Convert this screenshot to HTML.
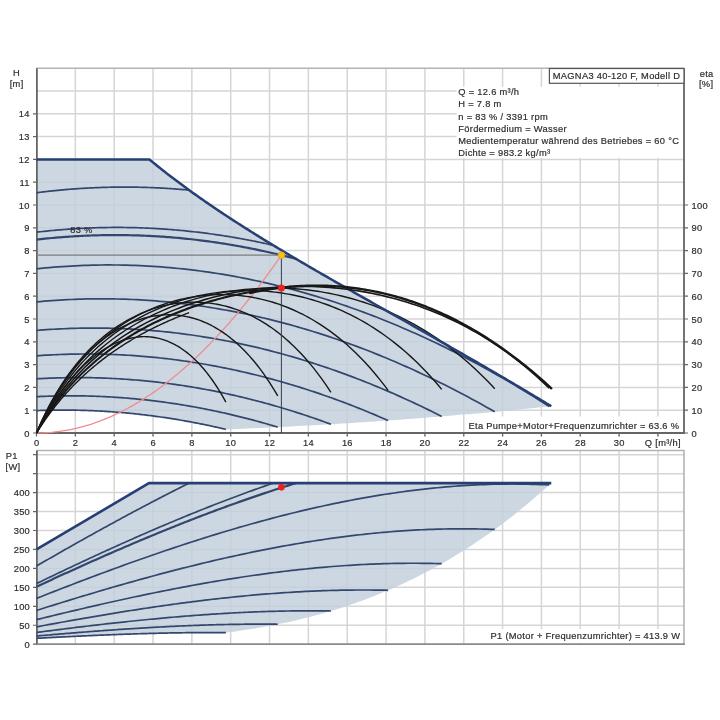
<!DOCTYPE html><html><head><meta charset="utf-8"><style>html,body{margin:0;padding:0;background:#fff;width:720px;height:720px;overflow:hidden;position:relative}</style></head><body><svg width="720" height="720" viewBox="0 0 720 720" style="position:absolute;left:0;top:0;filter:blur(0.35px)">
<rect x="0" y="0" width="720" height="720" fill="#ffffff"/>
<path d="M75.34,68.3L75.34,436.5M114.18,68.3L114.18,436.5M153.02,68.3L153.02,436.5M191.86,68.3L191.86,436.5M230.70,68.3L230.70,436.5M269.54,68.3L269.54,436.5M308.38,68.3L308.38,436.5M347.22,68.3L347.22,436.5M386.06,68.3L386.06,436.5M424.90,68.3L424.90,436.5M463.74,68.3L463.74,436.5M502.58,68.3L502.58,436.5M541.42,68.3L541.42,436.5M580.26,68.3L580.26,436.5M619.10,68.3L619.10,436.5M657.94,68.3L657.94,436.5M36.5,410.20L684,410.20M36.5,387.40L684,387.40M36.5,364.60L684,364.60M36.5,341.80L684,341.80M36.5,319.00L684,319.00M36.5,296.20L684,296.20M36.5,273.40L684,273.40M36.5,250.60L684,250.60M36.5,227.80L684,227.80M36.5,205.00L684,205.00M36.5,182.20L684,182.20M36.5,159.40L684,159.40M36.5,136.60L684,136.60M36.5,113.80L684,113.80M36.5,91.00L684,91.00" stroke="#d5d5d5" stroke-width="1.5" fill="none"/>
<path d="M36.5,68.3L684,68.3" stroke="#b4b4b4" stroke-width="1.6"/>
<path d="M36.50,159.40L148.94,159.40L148.94,159.40L150.29,160.19L151.63,161.29L152.98,162.39L154.32,163.49L155.67,164.58L157.01,165.66L158.36,166.74L159.71,167.82L161.05,168.89L162.40,169.95L163.74,171.01L165.09,172.06L166.43,173.11L167.78,174.16L169.12,175.20L170.47,176.23L171.82,177.26L173.16,178.29L174.51,179.31L175.85,180.33L177.20,181.34L178.54,182.35L179.89,183.35L181.23,184.35L182.58,185.35L183.92,186.34L185.27,187.33L186.62,188.31L187.96,189.29L189.31,190.26L190.65,191.24L192.00,192.20L193.34,193.17L194.69,194.13L196.03,195.08L197.38,196.04L198.73,196.99L200.07,197.93L201.42,198.88L202.76,199.81L204.11,200.75L205.45,201.68L206.80,202.61L208.14,203.54L209.49,204.46L210.84,205.38L212.18,206.30L213.53,207.21L214.87,208.12L216.22,209.03L217.56,209.93L218.91,210.84L220.25,211.74L221.60,212.63L222.94,213.53L224.29,214.42L225.64,215.30L226.98,216.19L228.33,217.07L229.67,217.95L231.02,218.83L232.36,219.71L233.71,220.58L235.05,221.45L236.40,222.32L237.75,223.18L239.09,224.05L240.44,224.91L241.78,225.77L243.13,226.63L244.47,227.48L245.82,228.33L247.16,229.18L248.51,230.03L249.85,230.88L251.20,231.72L252.55,232.56L253.89,233.41L255.24,234.24L256.58,235.08L257.93,235.92L259.27,236.75L260.62,237.58L261.96,238.41L263.31,239.24L264.66,240.06L266.00,240.89L267.35,241.71L268.69,242.53L270.04,243.35L271.38,244.17L272.73,244.99L274.07,245.80L275.42,246.62L276.76,247.43L278.11,248.24L279.46,249.05L280.80,249.86L282.15,250.66L283.49,251.47L284.84,252.27L286.18,253.07L287.53,253.88L288.87,254.68L290.22,255.47L291.57,256.27L292.91,257.07L294.26,257.86L295.60,258.66L296.95,259.45L298.29,260.24L299.64,261.04L300.98,261.83L302.33,262.61L303.68,263.40L305.02,264.19L306.37,264.98L307.71,265.76L309.06,266.55L310.40,267.33L311.75,268.11L313.09,268.89L314.44,269.68L315.78,270.46L317.13,271.24L318.48,272.01L319.82,272.79L321.17,273.57L322.51,274.35L323.86,275.12L325.20,275.90L326.55,276.67L327.89,277.45L329.24,278.22L330.59,278.99L331.93,279.76L333.28,280.53L334.62,281.31L335.97,282.08L337.31,282.85L338.66,283.61L340.00,284.38L341.35,285.15L342.69,285.92L344.04,286.69L345.39,287.45L346.73,288.22L348.08,288.99L349.42,289.75L350.77,290.52L352.11,291.28L353.46,292.05L354.80,292.81L356.15,293.58L357.50,294.34L358.84,295.10L360.19,295.87L361.53,296.63L362.88,297.39L364.22,298.16L365.57,298.92L366.91,299.68L368.26,300.44L369.60,301.20L370.95,301.96L372.30,302.73L373.64,303.49L374.99,304.25L376.33,305.01L377.68,305.77L379.02,306.53L380.37,307.29L381.71,308.05L383.06,308.81L384.41,309.57L385.75,310.33L387.10,311.09L388.44,311.85L389.79,312.61L391.13,313.38L392.48,314.14L393.82,314.90L395.17,315.66L396.52,316.42L397.86,317.18L399.21,317.94L400.55,318.70L401.90,319.46L403.24,320.22L404.59,320.98L405.93,321.74L407.28,322.50L408.62,323.27L409.97,324.03L411.32,324.79L412.66,325.55L414.01,326.31L415.35,327.07L416.70,327.84L418.04,328.60L419.39,329.36L420.73,330.12L422.08,330.89L423.43,331.65L424.77,332.42L426.12,333.18L427.46,333.94L428.81,334.71L430.15,335.47L431.50,336.24L432.84,337.00L434.19,337.77L435.53,338.53L436.88,339.30L438.23,340.07L439.57,340.83L440.92,341.60L442.26,342.37L443.61,343.14L444.95,343.90L446.30,344.67L447.64,345.44L448.99,346.21L450.34,346.98L451.68,347.75L453.03,348.52L454.37,349.29L455.72,350.06L457.06,350.83L458.41,351.61L459.75,352.38L461.10,353.15L462.44,353.93L463.79,354.70L465.14,355.47L466.48,356.25L467.83,357.02L469.17,357.80L470.52,358.58L471.86,359.35L473.21,360.13L474.55,360.91L475.90,361.69L477.25,362.46L478.59,363.24L479.94,364.02L481.28,364.80L482.63,365.58L483.97,366.37L485.32,367.15L486.66,367.93L488.01,368.71L489.35,369.50L490.70,370.28L492.05,371.07L493.39,371.85L494.74,372.64L496.08,373.42L497.43,374.21L498.77,375.00L500.12,375.79L501.46,376.57L502.81,377.36L504.16,378.15L505.50,378.94L506.85,379.74L508.19,380.53L509.54,381.32L510.88,382.11L512.23,382.91L513.57,383.70L514.92,384.50L516.27,385.29L517.61,386.09L518.96,386.89L520.30,387.68L521.65,388.48L522.99,389.28L524.34,390.08L525.68,390.88L527.03,391.68L528.37,392.49L529.72,393.29L531.07,394.09L532.41,394.89L533.76,395.70L535.10,396.51L536.45,397.31L537.79,398.12L539.14,398.93L540.48,399.73L541.83,400.54L543.18,401.35L544.52,402.16L545.87,402.97L547.21,403.79L548.56,404.60L549.90,405.41L551.25,406.23L551.25,406.23L545.73,406.80L540.22,407.36L534.70,407.92L529.19,408.47L523.67,409.02L518.16,409.56L512.64,410.09L507.13,410.62L501.61,411.14L496.10,411.66L490.58,412.17L485.06,412.67L479.55,413.17L474.03,413.66L468.52,414.14L463.00,414.62L457.49,415.09L451.97,415.56L446.46,416.02L440.94,416.47L435.43,416.92L429.91,417.36L424.40,417.80L418.88,418.23L413.37,418.65L407.85,419.07L402.33,419.48L396.82,419.88L391.30,420.28L385.79,420.67L380.27,421.06L374.76,421.44L369.24,421.81L363.73,422.18L358.21,422.54L352.70,422.90L347.18,423.25L341.67,423.59L336.15,423.93L330.64,424.26L325.12,424.58L319.61,424.90L314.09,425.21L308.57,425.52L303.06,425.82L297.54,426.11L292.03,426.40L286.51,426.68L281.00,426.96L275.48,427.23L269.97,427.49L264.45,427.75L258.94,428.00L253.42,428.25L247.91,428.48L242.39,428.72L236.88,428.94L231.36,429.16L225.85,429.38L225.85,429.38L222.64,428.62L219.43,427.88L216.22,427.16L213.01,426.45L209.80,425.75L206.59,425.08L203.38,424.41L200.17,423.76L196.96,423.13L193.75,422.51L190.54,421.90L187.33,421.32L184.12,420.74L180.92,420.18L177.71,419.64L174.50,419.11L171.29,418.60L168.08,418.10L164.87,417.61L161.66,417.15L158.45,416.69L155.24,416.25L152.03,415.83L148.82,415.42L145.61,415.03L142.40,414.65L139.20,414.29L135.99,413.94L132.78,413.61L129.57,413.29L126.36,412.98L123.15,412.70L119.94,412.42L116.73,412.17L113.52,411.92L110.31,411.70L107.10,411.48L103.89,411.29L100.68,411.10L97.48,410.94L94.27,410.78L91.06,410.65L87.85,410.52L84.64,410.42L81.43,410.32L78.22,410.25L75.01,410.18L71.80,410.14L68.59,410.10L65.38,410.09L62.17,410.09L58.96,410.10L55.76,410.13L52.55,410.17L49.34,410.23L46.13,410.30L42.92,410.39L39.71,410.49L36.50,410.61Z" fill="#c3cfdc" fill-opacity="0.83"/>
<rect x="456.5" y="86.8" width="227" height="71" fill="#ffffff"/>
<rect x="465" y="416.5" width="218" height="15.5" fill="#ffffff"/>
<path d="M36.9,68.3L36.9,433.9" stroke="#656565" stroke-width="1.8"/>
<path d="M36,433L684.9,433" stroke="#656565" stroke-width="1.8"/>
<path d="M684,68.3L684,433" stroke="#656565" stroke-width="1.8"/>
<path d="M33,433.00L36.5,433.00M33,410.20L36.5,410.20M33,387.40L36.5,387.40M33,364.60L36.5,364.60M33,341.80L36.5,341.80M33,319.00L36.5,319.00M33,296.20L36.5,296.20M33,273.40L36.5,273.40M33,250.60L36.5,250.60M33,227.80L36.5,227.80M33,205.00L36.5,205.00M33,182.20L36.5,182.20M33,159.40L36.5,159.40M33,136.60L36.5,136.60M33,113.80L36.5,113.80M684,433.00L688,433.00M684,410.20L688,410.20M684,387.40L688,387.40M684,364.60L688,364.60M684,341.80L688,341.80M684,319.00L688,319.00M684,296.20L688,296.20M684,273.40L688,273.40M684,250.60L688,250.60M684,227.80L688,227.80M684,205.00L688,205.00M36.50,433L36.50,436.5M75.34,433L75.34,436.5M114.18,433L114.18,436.5M153.02,433L153.02,436.5M191.86,433L191.86,436.5M230.70,433L230.70,436.5M269.54,433L269.54,436.5M308.38,433L308.38,436.5M347.22,433L347.22,436.5M386.06,433L386.06,436.5M424.90,433L424.90,436.5M463.74,433L463.74,436.5M502.58,433L502.58,436.5M541.42,433L541.42,436.5M580.26,433L580.26,436.5M619.10,433L619.10,436.5M657.94,433L657.94,436.5" stroke="#656565" stroke-width="1.2"/>
<path d="M36.50,192.74L37.78,192.57L39.06,192.41L40.35,192.25L41.63,192.10L42.91,191.94L44.19,191.79L45.48,191.64L46.76,191.49L48.04,191.35L49.32,191.21L50.61,191.07L51.89,190.93L53.17,190.79L54.45,190.66L55.74,190.53L57.02,190.40L58.30,190.28L59.58,190.16L60.87,190.03L62.15,189.92L63.43,189.80L64.71,189.69L66.00,189.58L67.28,189.47L68.56,189.36L69.84,189.26L71.13,189.16L72.41,189.06L73.69,188.96L74.97,188.87L76.26,188.78L77.54,188.69L78.82,188.60L80.10,188.52L81.39,188.43L82.67,188.35L83.95,188.28L85.23,188.20L86.51,188.13L87.80,188.06L89.08,187.99L90.36,187.93L91.64,187.86L92.93,187.80L94.21,187.74L95.49,187.69L96.77,187.64L98.06,187.58L99.34,187.54L100.62,187.49L101.90,187.45L103.19,187.41L104.47,187.37L105.75,187.33L107.03,187.30L108.32,187.26L109.60,187.24L110.88,187.21L112.16,187.18L113.45,187.16L114.73,187.14L116.01,187.13L117.29,187.11L118.58,187.10L119.86,187.09L121.14,187.08L122.42,187.08L123.71,187.07L124.99,187.07L126.27,187.07L127.55,187.08L128.84,187.09L130.12,187.10L131.40,187.11L132.68,187.12L133.96,187.14L135.25,187.16L136.53,187.18L137.81,187.20L139.09,187.23L140.38,187.26L141.66,187.29L142.94,187.32L144.22,187.36L145.51,187.39L146.79,187.43L148.07,187.48L149.35,187.52L150.64,187.57L151.92,187.62L153.20,187.67L154.48,187.73L155.77,187.79L157.05,187.85L158.33,187.91L159.61,187.97L160.90,188.04L162.18,188.11L163.46,188.18L164.74,188.25L166.03,188.33L167.31,188.41L168.59,188.49L169.87,188.58L171.16,188.66L172.44,188.75L173.72,188.84L175.00,188.93L176.28,189.03L177.57,189.13L178.85,189.23L180.13,189.33L181.41,189.44L182.70,189.55L183.98,189.66L185.26,189.77L186.54,189.88L187.83,190.00L189.11,190.12" stroke="#33476d" stroke-width="1.7" fill="none"/>
<path d="M36.50,232.19L38.49,231.95L40.48,231.73L42.47,231.51L44.46,231.30L46.45,231.09L48.44,230.89L50.43,230.69L52.42,230.50L54.40,230.31L56.39,230.13L58.38,229.96L60.37,229.79L62.36,229.63L64.35,229.48L66.34,229.33L68.33,229.18L70.32,229.04L72.31,228.91L74.30,228.78L76.29,228.66L78.28,228.55L80.27,228.44L82.26,228.33L84.25,228.24L86.24,228.14L88.23,228.06L90.21,227.98L92.20,227.90L94.19,227.83L96.18,227.77L98.17,227.71L100.16,227.66L102.15,227.61L104.14,227.57L106.13,227.54L108.12,227.51L110.11,227.49L112.10,227.47L114.09,227.46L116.08,227.45L118.07,227.45L120.06,227.46L122.05,227.47L124.03,227.49L126.02,227.51L128.01,227.54L130.00,227.58L131.99,227.62L133.98,227.66L135.97,227.72L137.96,227.77L139.95,227.84L141.94,227.91L143.93,227.98L145.92,228.06L147.91,228.15L149.90,228.24L151.89,228.34L153.88,228.45L155.87,228.56L157.85,228.67L159.84,228.80L161.83,228.92L163.82,229.06L165.81,229.19L167.80,229.34L169.79,229.49L171.78,229.65L173.77,229.81L175.76,229.98L177.75,230.15L179.74,230.33L181.73,230.52L183.72,230.71L185.71,230.90L187.70,231.11L189.69,231.32L191.68,231.53L193.66,231.75L195.65,231.98L197.64,232.21L199.63,232.44L201.62,232.69L203.61,232.94L205.60,233.19L207.59,233.45L209.58,233.72L211.57,233.99L213.56,234.27L215.55,234.55L217.54,234.84L219.53,235.14L221.52,235.44L223.51,235.75L225.50,236.06L227.48,236.38L229.47,236.70L231.46,237.03L233.45,237.37L235.44,237.71L237.43,238.06L239.42,238.41L241.41,238.77L243.40,239.13L245.39,239.50L247.38,239.88L249.37,240.26L251.36,240.65L253.35,241.04L255.34,241.44L257.33,241.85L259.32,242.26L261.30,242.68L263.29,243.10L265.28,243.53L267.27,243.96L269.26,244.40L271.25,244.85L273.24,245.30" stroke="#33476d" stroke-width="1.7" fill="none"/>
<path d="M36.50,239.63L38.68,239.38L40.86,239.14L43.04,238.90L45.22,238.67L47.40,238.45L49.58,238.24L51.76,238.03L53.94,237.83L56.12,237.64L58.30,237.46L60.48,237.28L62.67,237.11L64.85,236.94L67.03,236.78L69.21,236.63L71.39,236.49L73.57,236.35L75.75,236.22L77.93,236.10L80.11,235.98L82.29,235.87L84.47,235.77L86.65,235.67L88.83,235.59L91.01,235.50L93.19,235.43L95.37,235.36L97.55,235.30L99.73,235.25L101.91,235.20L104.09,235.16L106.27,235.13L108.45,235.10L110.63,235.08L112.82,235.07L115.00,235.07L117.18,235.07L119.36,235.08L121.54,235.09L123.72,235.12L125.90,235.15L128.08,235.18L130.26,235.23L132.44,235.28L134.62,235.33L136.80,235.40L138.98,235.47L141.16,235.55L143.34,235.63L145.52,235.73L147.70,235.83L149.88,235.93L152.06,236.05L154.24,236.17L156.42,236.29L158.60,236.43L160.78,236.57L162.97,236.72L165.15,236.87L167.33,237.03L169.51,237.20L171.69,237.38L173.87,237.56L176.05,237.75L178.23,237.94L180.41,238.15L182.59,238.36L184.77,238.58L186.95,238.80L189.13,239.03L191.31,239.27L193.49,239.52L195.67,239.77L197.85,240.03L200.03,240.29L202.21,240.57L204.39,240.85L206.57,241.13L208.75,241.43L210.93,241.73L213.12,242.03L215.30,242.35L217.48,242.67L219.66,243.00L221.84,243.33L224.02,243.68L226.20,244.03L228.38,244.38L230.56,244.75L232.74,245.12L234.92,245.49L237.10,245.88L239.28,246.27L241.46,246.67L243.64,247.07L245.82,247.48L248.00,247.90L250.18,248.33L252.36,248.76L254.54,249.20L256.72,249.65L258.90,250.10L261.08,250.56L263.27,251.03L265.45,251.50L267.63,251.99L269.81,252.47L271.99,252.97L274.17,253.47L276.35,253.98L278.53,254.50L280.71,255.02L282.89,255.55L285.07,256.09L287.25,256.63L289.43,257.18L291.61,257.74L293.79,258.31L295.97,258.88" stroke="#33476d" stroke-width="2.2" fill="none"/>
<path d="M36.50,268.83L40.81,268.38L45.12,267.97L49.43,267.58L53.74,267.21L58.04,266.88L62.35,266.57L66.66,266.29L70.97,266.03L75.28,265.80L79.59,265.60L83.90,265.43L88.21,265.28L92.51,265.16L96.82,265.07L101.13,265.01L105.44,264.97L109.75,264.96L114.06,264.98L118.37,265.02L122.68,265.09L126.98,265.19L131.29,265.31L135.60,265.47L139.91,265.64L144.22,265.85L148.53,266.09L152.84,266.35L157.15,266.63L161.45,266.95L165.76,267.29L170.07,267.66L174.38,268.06L178.69,268.48L183.00,268.93L187.31,269.41L191.62,269.91L195.93,270.45L200.23,271.01L204.54,271.59L208.85,272.21L213.16,272.85L217.47,273.51L221.78,274.21L226.09,274.93L230.40,275.68L234.70,276.46L239.01,277.26L243.32,278.09L247.63,278.95L251.94,279.83L256.25,280.75L260.56,281.69L264.87,282.65L269.17,283.65L273.48,284.67L277.79,285.71L282.10,286.79L286.41,287.89L290.72,289.02L295.03,290.18L299.34,291.36L303.65,292.57L307.95,293.81L312.26,295.07L316.57,296.37L320.88,297.69L325.19,299.03L329.50,300.41L333.81,301.81L338.12,303.23L342.42,304.69L346.73,306.17L351.04,307.68L355.35,309.22L359.66,310.78L363.97,312.37L368.28,313.99L372.59,315.63L376.89,317.30L381.20,319.00L385.51,320.73L389.82,322.48L394.13,324.26L398.44,326.07L402.75,327.91L407.06,329.77L411.36,331.66L415.67,333.57L419.98,335.52L424.29,337.49L428.60,339.48L432.91,341.51L437.22,343.56L441.53,345.64L445.84,347.75L450.14,349.88L454.45,352.04L458.76,354.23L463.07,356.44L467.38,358.68L471.69,360.95L476.00,363.25L480.31,365.57L484.61,367.92L488.92,370.30L493.23,372.70L497.54,375.14L501.85,377.60L506.16,380.08L510.47,382.59L514.78,385.14L519.08,387.70L523.39,390.30L527.70,392.92L532.01,395.57L536.32,398.24L540.63,400.95L544.94,403.68L549.25,406.44" stroke="#33476d" stroke-width="1.7" fill="none"/>
<path d="M36.50,301.89L40.35,301.54L44.20,301.20L48.05,300.89L51.90,300.60L55.75,300.33L59.60,300.09L63.45,299.86L67.30,299.66L71.15,299.48L75.01,299.31L78.86,299.18L82.71,299.06L86.56,298.96L90.41,298.89L94.26,298.84L98.11,298.81L101.96,298.80L105.81,298.81L109.66,298.85L113.51,298.91L117.36,298.98L121.21,299.08L125.06,299.21L128.91,299.35L132.76,299.51L136.61,299.70L140.46,299.91L144.32,300.14L148.17,300.39L152.02,300.66L155.87,300.96L159.72,301.28L163.57,301.61L167.42,301.97L171.27,302.36L175.12,302.76L178.97,303.18L182.82,303.63L186.67,304.10L190.52,304.59L194.37,305.10L198.22,305.63L202.07,306.19L205.92,306.77L209.77,307.36L213.63,307.98L217.48,308.63L221.33,309.29L225.18,309.97L229.03,310.68L232.88,311.41L236.73,312.16L240.58,312.93L244.43,313.72L248.28,314.54L252.13,315.38L255.98,316.24L259.83,317.12L263.68,318.02L267.53,318.94L271.38,319.89L275.23,320.85L279.08,321.84L282.93,322.85L286.79,323.88L290.64,324.94L294.49,326.01L298.34,327.11L302.19,328.23L306.04,329.37L309.89,330.53L313.74,331.71L317.59,332.92L321.44,334.14L325.29,335.39L329.14,336.66L332.99,337.96L336.84,339.27L340.69,340.60L344.54,341.96L348.39,343.34L352.24,344.74L356.10,346.16L359.95,347.61L363.80,349.07L367.65,350.56L371.50,352.07L375.35,353.60L379.20,355.15L383.05,356.72L386.90,358.32L390.75,359.93L394.60,361.57L398.45,363.23L402.30,364.92L406.15,366.62L410.00,368.34L413.85,370.09L417.70,371.86L421.55,373.65L425.41,375.46L429.26,377.30L433.11,379.15L436.96,381.03L440.81,382.93L444.66,384.85L448.51,386.79L452.36,388.75L456.21,390.74L460.06,392.75L463.91,394.77L467.76,396.83L471.61,398.90L475.46,400.99L479.31,403.11L483.16,405.24L487.01,407.40L490.86,409.58L494.71,411.79" stroke="#33476d" stroke-width="1.7" fill="none"/>
<path d="M36.50,330.48L39.91,330.20L43.31,329.94L46.72,329.69L50.12,329.47L53.53,329.26L56.93,329.06L60.34,328.89L63.74,328.73L67.15,328.59L70.55,328.46L73.96,328.35L77.36,328.26L80.77,328.19L84.17,328.13L87.58,328.09L90.98,328.07L94.39,328.06L97.79,328.07L101.20,328.10L104.60,328.14L108.01,328.20L111.41,328.28L114.82,328.38L118.22,328.49L121.63,328.62L125.03,328.76L128.44,328.93L131.84,329.10L135.25,329.30L138.65,329.52L142.06,329.75L145.46,329.99L148.87,330.26L152.27,330.54L155.68,330.84L159.08,331.15L162.49,331.49L165.89,331.84L169.30,332.20L172.70,332.58L176.11,332.98L179.51,333.40L182.92,333.84L186.32,334.29L189.73,334.75L193.13,335.24L196.54,335.74L199.94,336.26L203.35,336.80L206.75,337.35L210.16,337.92L213.56,338.51L216.97,339.11L220.37,339.73L223.78,340.37L227.18,341.02L230.59,341.69L233.99,342.38L237.40,343.09L240.80,343.81L244.21,344.55L247.61,345.30L251.02,346.08L254.42,346.87L257.83,347.67L261.23,348.50L264.64,349.34L268.04,350.19L271.45,351.07L274.85,351.96L278.26,352.87L281.66,353.80L285.07,354.74L288.47,355.70L291.88,356.67L295.28,357.67L298.69,358.68L302.09,359.70L305.50,360.75L308.90,361.81L312.31,362.89L315.71,363.98L319.12,365.09L322.52,366.22L325.93,367.37L329.33,368.53L332.74,369.71L336.14,370.91L339.55,372.12L342.95,373.35L346.36,374.60L349.76,375.86L353.17,377.15L356.57,378.44L359.98,379.76L363.38,381.09L366.79,382.44L370.19,383.81L373.60,385.19L377.00,386.59L380.41,388.01L383.81,389.44L387.22,390.89L390.62,392.36L394.03,393.84L397.43,395.35L400.84,396.86L404.24,398.40L407.65,399.95L411.05,401.52L414.46,403.11L417.86,404.71L421.27,406.33L424.67,407.97L428.08,409.62L431.48,411.30L434.89,412.98L438.29,414.69L441.70,416.41" stroke="#33476d" stroke-width="1.7" fill="none"/>
<path d="M36.50,355.80L39.45,355.59L42.41,355.39L45.36,355.21L48.32,355.04L51.27,354.88L54.23,354.74L57.18,354.60L60.14,354.48L63.09,354.38L66.05,354.28L69.00,354.20L71.96,354.13L74.91,354.08L77.87,354.03L80.82,354.00L83.78,353.98L86.73,353.98L89.69,353.99L92.64,354.01L95.59,354.04L98.55,354.09L101.50,354.15L104.46,354.22L107.41,354.30L110.37,354.40L113.32,354.51L116.28,354.63L119.23,354.77L122.19,354.91L125.14,355.08L128.10,355.25L131.05,355.44L134.01,355.64L136.96,355.85L139.92,356.07L142.87,356.31L145.83,356.56L148.78,356.82L151.73,357.10L154.69,357.39L157.64,357.69L160.60,358.00L163.55,358.33L166.51,358.67L169.46,359.02L172.42,359.39L175.37,359.76L178.33,360.15L181.28,360.56L184.24,360.97L187.19,361.40L190.15,361.85L193.10,362.30L196.06,362.77L199.01,363.25L201.97,363.74L204.92,364.24L207.87,364.76L210.83,365.29L213.78,365.84L216.74,366.39L219.69,366.96L222.65,367.55L225.60,368.14L228.56,368.75L231.51,369.37L234.47,370.00L237.42,370.65L240.38,371.31L243.33,371.98L246.29,372.66L249.24,373.36L252.20,374.07L255.15,374.79L258.11,375.53L261.06,376.27L264.01,377.03L266.97,377.81L269.92,378.59L272.88,379.39L275.83,380.21L278.79,381.03L281.74,381.87L284.70,382.72L287.65,383.58L290.61,384.46L293.56,385.34L296.52,386.24L299.47,387.16L302.43,388.09L305.38,389.02L308.34,389.98L311.29,390.94L314.25,391.92L317.20,392.91L320.15,393.91L323.11,394.93L326.06,395.96L329.02,397.00L331.97,398.05L334.93,399.12L337.88,400.20L340.84,401.29L343.79,402.40L346.75,403.52L349.70,404.65L352.66,405.79L355.61,406.95L358.57,408.12L361.52,409.30L364.48,410.49L367.43,411.70L370.39,412.92L373.34,414.15L376.29,415.40L379.25,416.66L382.20,417.93L385.16,419.21L388.11,420.51" stroke="#33476d" stroke-width="1.7" fill="none"/>
<path d="M36.50,378.87L38.97,378.72L41.45,378.58L43.92,378.45L46.40,378.33L48.87,378.22L51.35,378.12L53.82,378.03L56.29,377.94L58.77,377.87L61.24,377.80L63.72,377.75L66.19,377.70L68.66,377.66L71.14,377.63L73.61,377.61L76.09,377.59L78.56,377.59L81.04,377.60L83.51,377.61L85.98,377.63L88.46,377.67L90.93,377.71L93.41,377.76L95.88,377.82L98.36,377.89L100.83,377.96L103.30,378.05L105.78,378.14L108.25,378.25L110.73,378.36L113.20,378.48L115.67,378.61L118.15,378.75L120.62,378.90L123.10,379.06L125.57,379.23L128.05,379.40L130.52,379.59L132.99,379.78L135.47,379.98L137.94,380.19L140.42,380.41L142.89,380.64L145.37,380.88L147.84,381.13L150.31,381.38L152.79,381.65L155.26,381.92L157.74,382.20L160.21,382.50L162.68,382.80L165.16,383.11L167.63,383.43L170.11,383.75L172.58,384.09L175.06,384.44L177.53,384.79L180.00,385.15L182.48,385.53L184.95,385.91L187.43,386.30L189.90,386.70L192.38,387.10L194.85,387.52L197.32,387.95L199.80,388.38L202.27,388.83L204.75,389.28L207.22,389.74L209.69,390.21L212.17,390.69L214.64,391.18L217.12,391.68L219.59,392.18L222.07,392.70L224.54,393.22L227.01,393.76L229.49,394.30L231.96,394.85L234.44,395.41L236.91,395.98L239.39,396.56L241.86,397.15L244.33,397.74L246.81,398.35L249.28,398.96L251.76,399.58L254.23,400.22L256.71,400.86L259.18,401.51L261.65,402.16L264.13,402.83L266.60,403.51L269.08,404.19L271.55,404.89L274.02,405.59L276.50,406.30L278.97,407.03L281.45,407.76L283.92,408.50L286.40,409.24L288.87,410.00L291.34,410.77L293.82,411.54L296.29,412.33L298.77,413.12L301.24,413.92L303.72,414.73L306.19,415.55L308.66,416.38L311.14,417.22L313.61,418.06L316.09,418.92L318.56,419.78L321.03,420.66L323.51,421.54L325.98,422.43L328.46,423.33L330.93,424.24" stroke="#33476d" stroke-width="1.7" fill="none"/>
<path d="M36.50,396.66L38.53,396.57L40.55,396.47L42.58,396.39L44.61,396.31L46.64,396.23L48.66,396.16L50.69,396.10L52.72,396.04L54.74,395.99L56.77,395.95L58.80,395.91L60.83,395.88L62.85,395.85L64.88,395.83L66.91,395.82L68.93,395.81L70.96,395.81L72.99,395.81L75.02,395.82L77.04,395.84L79.07,395.86L81.10,395.89L83.12,395.92L85.15,395.96L87.18,396.00L89.20,396.06L91.23,396.11L93.26,396.18L95.29,396.25L97.31,396.32L99.34,396.41L101.37,396.49L103.39,396.59L105.42,396.69L107.45,396.79L109.48,396.90L111.50,397.02L113.53,397.15L115.56,397.28L117.58,397.41L119.61,397.55L121.64,397.70L123.67,397.85L125.69,398.01L127.72,398.18L129.75,398.35L131.77,398.53L133.80,398.71L135.83,398.90L137.86,399.10L139.88,399.30L141.91,399.51L143.94,399.72L145.96,399.94L147.99,400.17L150.02,400.40L152.05,400.64L154.07,400.88L156.10,401.13L158.13,401.39L160.15,401.65L162.18,401.92L164.21,402.19L166.23,402.47L168.26,402.76L170.29,403.05L172.32,403.35L174.34,403.65L176.37,403.96L178.40,404.28L180.42,404.60L182.45,404.93L184.48,405.26L186.51,405.60L188.53,405.95L190.56,406.30L192.59,406.66L194.61,407.02L196.64,407.39L198.67,407.77L200.70,408.15L202.72,408.54L204.75,408.93L206.78,409.33L208.80,409.74L210.83,410.15L212.86,410.57L214.89,410.99L216.91,411.42L218.94,411.86L220.97,412.30L222.99,412.75L225.02,413.20L227.05,413.66L229.08,414.13L231.10,414.60L233.13,415.08L235.16,415.57L237.18,416.06L239.21,416.55L241.24,417.05L243.26,417.56L245.29,418.08L247.32,418.60L249.35,419.12L251.37,419.65L253.40,420.19L255.43,420.74L257.45,421.29L259.48,421.84L261.51,422.41L263.54,422.97L265.56,423.55L267.59,424.13L269.62,424.72L271.64,425.31L273.67,425.91L275.70,426.51L277.73,427.12" stroke="#33476d" stroke-width="1.7" fill="none"/>
<path d="M36.50,410.61L38.09,410.55L39.68,410.50L41.27,410.44L42.86,410.39L44.46,410.35L46.05,410.30L47.64,410.27L49.23,410.23L50.82,410.20L52.41,410.17L54.00,410.15L55.59,410.13L57.18,410.11L58.78,410.10L60.37,410.09L61.96,410.09L63.55,410.09L65.14,410.09L66.73,410.09L68.32,410.10L69.91,410.12L71.50,410.13L73.10,410.15L74.69,410.18L76.28,410.21L77.87,410.24L79.46,410.27L81.05,410.31L82.64,410.36L84.23,410.40L85.83,410.45L87.42,410.51L89.01,410.57L90.60,410.63L92.19,410.69L93.78,410.76L95.37,410.83L96.96,410.91L98.55,410.99L100.15,411.07L101.74,411.16L103.33,411.25L104.92,411.35L106.51,411.45L108.10,411.55L109.69,411.65L111.28,411.76L112.87,411.88L114.47,411.99L116.06,412.11L117.65,412.24L119.24,412.37L120.83,412.50L122.42,412.63L124.01,412.77L125.60,412.92L127.19,413.06L128.79,413.21L130.38,413.37L131.97,413.52L133.56,413.69L135.15,413.85L136.74,414.02L138.33,414.19L139.92,414.37L141.51,414.55L143.11,414.73L144.70,414.92L146.29,415.11L147.88,415.30L149.47,415.50L151.06,415.70L152.65,415.91L154.24,416.12L155.84,416.33L157.43,416.55L159.02,416.77L160.61,417.00L162.20,417.22L163.79,417.45L165.38,417.69L166.97,417.93L168.56,418.17L170.16,418.42L171.75,418.67L173.34,418.92L174.93,419.18L176.52,419.44L178.11,419.71L179.70,419.98L181.29,420.25L182.88,420.52L184.48,420.80L186.07,421.09L187.66,421.37L189.25,421.67L190.84,421.96L192.43,422.26L194.02,422.56L195.61,422.87L197.20,423.18L198.80,423.49L200.39,423.81L201.98,424.13L203.57,424.45L205.16,424.78L206.75,425.11L208.34,425.44L209.93,425.78L211.52,426.13L213.12,426.47L214.71,426.82L216.30,427.18L217.89,427.53L219.48,427.90L221.07,428.26L222.66,428.63L224.25,429.00L225.85,429.38" stroke="#33476d" stroke-width="1.7" fill="none"/>
<path d="M36.50,433.00L39.60,432.97L42.70,432.89L45.80,432.74L48.90,432.54L52.00,432.29L55.10,431.97L58.20,431.60L61.30,431.18L64.40,430.69L67.50,430.15L70.60,429.55L73.70,428.90L76.80,428.18L79.90,427.41L83.00,426.59L86.10,425.71L89.20,424.76L92.30,423.77L95.40,422.71L98.50,421.60L101.60,420.43L104.70,419.21L107.80,417.93L110.90,416.59L114.00,415.19L117.10,413.74L120.20,412.23L123.30,410.66L126.39,409.04L129.49,407.35L132.59,405.62L135.69,403.82L138.79,401.97L141.89,400.06L144.99,398.09L148.09,396.07L151.19,393.99L154.29,391.85L157.39,389.66L160.49,387.41L163.59,385.10L166.69,382.73L169.79,380.31L172.89,377.83L175.99,375.30L179.09,372.70L182.19,370.05L185.29,367.35L188.39,364.58L191.49,361.76L194.59,358.88L197.69,355.95L200.79,352.96L203.89,349.91L206.99,346.80L210.09,343.64L213.19,340.42L216.29,337.14L219.39,333.81L222.49,330.42L225.59,326.97L228.69,323.46L231.79,319.90L234.89,316.28L237.99,312.61L241.09,308.87L244.19,305.08L247.29,301.24L250.39,297.33L253.49,293.37L256.59,289.35L259.69,285.28L262.79,281.15L265.89,276.96L268.99,272.71L272.09,268.41L275.19,264.05L278.29,259.63L281.39,255.16" stroke="#f08c8c" stroke-width="1.3" fill="none"/>
<path d="M36.50,433.00L37.78,430.96L39.06,428.95L40.35,426.98L41.63,425.04L42.91,423.13L44.19,421.25L45.48,419.41L46.76,417.59L48.04,415.81L49.32,414.05L50.61,412.32L51.89,410.62L53.17,408.95L54.45,407.30L55.74,405.67L57.02,404.07L58.30,402.50L59.58,400.95L60.87,399.42L62.15,397.91L63.43,396.43L64.71,394.96L66.00,393.52L67.28,392.10L68.56,390.70L69.84,389.32L71.13,387.95L72.41,386.61L73.69,385.28L74.97,383.98L76.26,382.69L77.54,381.41L78.82,380.16L80.10,378.92L81.39,377.70L82.67,376.49L83.95,375.30L85.23,374.12L86.51,372.96L87.80,371.81L89.08,370.68L90.36,369.56L91.64,368.46L92.93,367.37L94.21,366.29L95.49,365.23L96.77,364.18L98.06,363.14L99.34,362.12L100.62,361.10L101.90,360.10L103.19,359.11L104.47,358.14L105.75,357.17L107.03,356.22L108.32,355.27L109.60,354.34L110.88,353.42L112.16,352.51L113.45,351.61L114.73,350.72L116.01,349.84L117.29,348.97L118.58,348.11L119.86,347.26L121.14,346.42L122.42,345.59L123.71,344.76L124.99,343.95L126.27,343.15L127.55,342.35L128.84,341.56L130.12,340.79L131.40,340.02L132.68,339.26L133.96,338.50L135.25,337.76L136.53,337.02L137.81,336.29L139.09,335.57L140.38,334.86L141.66,334.15L142.94,333.45L144.22,332.76L145.51,332.08L146.79,331.40L148.07,330.74L149.35,330.07L150.64,329.42L151.92,328.77L153.20,328.13L154.48,327.50L155.77,326.87L157.05,326.25L158.33,325.63L159.61,325.03L160.90,324.42L162.18,323.83L163.46,323.24L164.74,322.66L166.03,322.08L167.31,321.51L168.59,320.94L169.87,320.39L171.16,319.83L172.44,319.29L173.72,318.75L175.00,318.21L176.28,317.68L177.57,317.16L178.85,316.64L180.13,316.12L181.41,315.62L182.70,315.11L183.98,314.62L185.26,314.12L186.54,313.64L187.83,313.16L189.11,312.68" stroke="#181818" stroke-width="1.4" fill="none"/>
<path d="M36.50,433.00L38.49,429.60L40.48,426.31L42.47,423.10L44.46,419.98L46.45,416.95L48.44,414.00L50.43,411.12L52.42,408.32L54.40,405.59L56.39,402.94L58.38,400.34L60.37,397.81L62.36,395.34L64.35,392.93L66.34,390.58L68.33,388.28L70.32,386.04L72.31,383.84L74.30,381.70L76.29,379.60L78.28,377.55L80.27,375.54L82.26,373.58L84.25,371.66L86.24,369.77L88.23,367.93L90.21,366.13L92.20,364.36L94.19,362.63L96.18,360.93L98.17,359.26L100.16,357.63L102.15,356.03L104.14,354.47L106.13,352.93L108.12,351.42L110.11,349.94L112.10,348.49L114.09,347.07L116.08,345.67L118.07,344.30L120.06,342.95L122.05,341.63L124.03,340.33L126.02,339.06L128.01,337.81L130.00,336.58L131.99,335.38L133.98,334.19L135.97,333.03L137.96,331.89L139.95,330.77L141.94,329.66L143.93,328.58L145.92,327.52L147.91,326.47L149.90,325.45L151.89,324.44L153.88,323.45L155.87,322.48L157.85,321.52L159.84,320.58L161.83,319.66L163.82,318.76L165.81,317.87L167.80,316.99L169.79,316.13L171.78,315.29L173.77,314.46L175.76,313.65L177.75,312.85L179.74,312.07L181.73,311.30L183.72,310.54L185.71,309.80L187.70,309.07L189.69,308.35L191.68,307.65L193.66,306.96L195.65,306.29L197.64,305.62L199.63,304.97L201.62,304.34L203.61,303.71L205.60,303.10L207.59,302.49L209.58,301.91L211.57,301.33L213.56,300.76L215.55,300.21L217.54,299.66L219.53,299.13L221.52,298.61L223.51,298.10L225.50,297.60L227.48,297.12L229.47,296.64L231.46,296.18L233.45,295.72L235.44,295.28L237.43,294.84L239.42,294.42L241.41,294.01L243.40,293.60L245.39,293.21L247.38,292.83L249.37,292.46L251.36,292.09L253.35,291.74L255.34,291.40L257.33,291.07L259.32,290.74L261.30,290.43L263.29,290.13L265.28,289.83L267.27,289.55L269.26,289.27L271.25,289.01L273.24,288.75" stroke="#181818" stroke-width="1.4" fill="none"/>
<path d="M36.50,433.00L38.68,429.23L40.86,425.57L43.04,422.03L45.22,418.60L47.40,415.27L49.58,412.04L51.76,408.90L53.94,405.86L56.12,402.89L58.30,400.01L60.48,397.21L62.67,394.48L64.85,391.83L67.03,389.24L69.21,386.72L71.39,384.26L73.57,381.87L75.75,379.53L77.93,377.25L80.11,375.03L82.29,372.86L84.47,370.74L86.65,368.67L88.83,366.64L91.01,364.67L93.19,362.73L95.37,360.84L97.55,359.00L99.73,357.19L101.91,355.42L104.09,353.69L106.27,352.00L108.45,350.34L110.63,348.72L112.82,347.13L115.00,345.58L117.18,344.06L119.36,342.56L121.54,341.10L123.72,339.67L125.90,338.27L128.08,336.89L130.26,335.55L132.44,334.23L134.62,332.94L136.80,331.67L138.98,330.43L141.16,329.21L143.34,328.01L145.52,326.84L147.70,325.70L149.88,324.57L152.06,323.47L154.24,322.39L156.42,321.33L158.60,320.29L160.78,319.27L162.97,318.27L165.15,317.29L167.33,316.33L169.51,315.39L171.69,314.47L173.87,313.57L176.05,312.68L178.23,311.81L180.41,310.97L182.59,310.13L184.77,309.32L186.95,308.52L189.13,307.74L191.31,306.97L193.49,306.22L195.67,305.49L197.85,304.77L200.03,304.06L202.21,303.38L204.39,302.70L206.57,302.05L208.75,301.40L210.93,300.77L213.12,300.16L215.30,299.56L217.48,298.97L219.66,298.40L221.84,297.84L224.02,297.30L226.20,296.77L228.38,296.25L230.56,295.75L232.74,295.25L234.92,294.78L237.10,294.31L239.28,293.86L241.46,293.42L243.64,292.99L245.82,292.58L248.00,292.17L250.18,291.78L252.36,291.41L254.54,291.04L256.72,290.69L258.90,290.35L261.08,290.02L263.27,289.70L265.45,289.40L267.63,289.10L269.81,288.82L271.99,288.55L274.17,288.29L276.35,288.05L278.53,287.81L280.71,287.59L282.89,287.37L285.07,287.17L287.25,286.98L289.43,286.81L291.61,286.64L293.79,286.48L295.97,286.34" stroke="#181818" stroke-width="1.4" fill="none"/>
<path d="M36.50,433.00L40.35,425.43L44.20,418.34L48.05,411.66L51.90,405.38L55.75,399.45L59.60,393.83L63.45,388.52L67.30,383.48L71.15,378.69L75.01,374.13L78.86,369.80L82.71,365.66L86.56,361.72L90.41,357.95L94.26,354.35L98.11,350.90L101.96,347.61L105.81,344.45L109.66,341.43L113.51,338.53L117.36,335.75L121.21,333.09L125.06,330.54L128.91,328.08L132.76,325.73L136.61,323.48L140.46,321.32L144.32,319.24L148.17,317.25L152.02,315.35L155.87,313.52L159.72,311.77L163.57,310.10L167.42,308.50L171.27,306.97L175.12,305.50L178.97,304.11L182.82,302.78L186.67,301.52L190.52,300.32L194.37,299.18L198.22,298.10L202.07,297.08L205.92,296.11L209.77,295.21L213.63,294.36L217.48,293.57L221.33,292.83L225.18,292.15L229.03,291.52L232.88,290.95L236.73,290.42L240.58,289.95L244.43,289.54L248.28,289.17L252.13,288.85L255.98,288.59L259.83,288.38L263.68,288.22L267.53,288.11L271.38,288.05L275.23,288.04L279.08,288.08L282.93,288.17L286.79,288.31L290.64,288.51L294.49,288.75L298.34,289.05L302.19,289.40L306.04,289.80L309.89,290.25L313.74,290.75L317.59,291.31L321.44,291.92L325.29,292.58L329.14,293.30L332.99,294.07L336.84,294.90L340.69,295.78L344.54,296.72L348.39,297.71L352.24,298.77L356.10,299.88L359.95,301.05L363.80,302.28L367.65,303.57L371.50,304.92L375.35,306.33L379.20,307.81L383.05,309.35L386.90,310.96L390.75,312.64L394.60,314.38L398.45,316.19L402.30,318.07L406.15,320.02L410.00,322.05L413.85,324.15L417.70,326.32L421.55,328.57L425.41,330.91L429.26,333.32L433.11,335.81L436.96,338.39L440.81,341.06L444.66,343.81L448.51,346.65L452.36,349.59L456.21,352.62L460.06,355.74L463.91,358.97L467.76,362.30L471.61,365.73L475.46,369.27L479.31,372.93L483.16,376.69L487.01,380.57L490.86,384.57L494.71,388.70" stroke="#181818" stroke-width="1.4" fill="none"/>
<path d="M36.50,433.00L39.91,425.78L43.31,418.99L46.72,412.58L50.12,406.53L53.53,400.81L56.93,395.38L60.34,390.23L63.74,385.33L67.15,380.67L70.55,376.23L73.96,371.99L77.36,367.94L80.77,364.08L84.17,360.38L87.58,356.84L90.98,353.45L94.39,350.20L97.79,347.09L101.20,344.10L104.60,341.24L108.01,338.49L111.41,335.85L114.82,333.31L118.22,330.88L121.63,328.54L125.03,326.30L128.44,324.15L131.84,322.08L135.25,320.10L138.65,318.19L142.06,316.37L145.46,314.62L148.87,312.95L152.27,311.34L155.68,309.81L159.08,308.34L162.49,306.94L165.89,305.61L169.30,304.33L172.70,303.12L176.11,301.97L179.51,300.89L182.92,299.85L186.32,298.88L189.73,297.96L193.13,297.10L196.54,296.30L199.94,295.55L203.35,294.85L206.75,294.21L210.16,293.62L213.56,293.08L216.97,292.60L220.37,292.16L223.78,291.78L227.18,291.45L230.59,291.17L233.99,290.94L237.40,290.76L240.80,290.63L244.21,290.55L247.61,290.52L251.02,290.55L254.42,290.62L257.83,290.74L261.23,290.92L264.64,291.14L268.04,291.42L271.45,291.74L274.85,292.12L278.26,292.55L281.66,293.04L285.07,293.57L288.47,294.16L291.88,294.80L295.28,295.49L298.69,296.24L302.09,297.05L305.50,297.91L308.90,298.82L312.31,299.79L315.71,300.82L319.12,301.90L322.52,303.05L325.93,304.25L329.33,305.52L332.74,306.84L336.14,308.23L339.55,309.68L342.95,311.19L346.36,312.77L349.76,314.41L353.17,316.12L356.57,317.90L359.98,319.75L363.38,321.67L366.79,323.67L370.19,325.73L373.60,327.87L377.00,330.09L380.41,332.38L383.81,334.76L387.22,337.22L390.62,339.76L394.03,342.38L397.43,345.09L400.84,347.90L404.24,350.79L407.65,353.77L411.05,356.86L414.46,360.04L417.86,363.32L421.27,366.70L424.67,370.19L428.08,373.79L431.48,377.50L434.89,381.33L438.29,385.27L441.70,389.34" stroke="#181818" stroke-width="1.4" fill="none"/>
<path d="M36.50,433.00L39.45,426.31L42.41,419.98L45.36,413.99L48.32,408.31L51.27,402.91L54.23,397.77L57.18,392.88L60.14,388.21L63.09,383.75L66.05,379.50L69.00,375.42L71.96,371.52L74.91,367.79L77.87,364.21L80.82,360.77L83.78,357.48L86.73,354.31L89.69,351.27L92.64,348.35L95.59,345.54L98.55,342.84L101.50,340.25L104.46,337.75L107.41,335.35L110.37,333.05L113.32,330.83L116.28,328.69L119.23,326.64L122.19,324.67L125.14,322.78L128.10,320.96L131.05,319.22L134.01,317.55L136.96,315.94L139.92,314.41L142.87,312.94L145.83,311.53L148.78,310.19L151.73,308.90L154.69,307.68L157.64,306.52L160.60,305.42L163.55,304.37L166.51,303.38L169.46,302.45L172.42,301.57L175.37,300.75L178.33,299.98L181.28,299.26L184.24,298.60L187.19,297.99L190.15,297.43L193.10,296.92L196.06,296.46L199.01,296.05L201.97,295.69L204.92,295.39L207.87,295.13L210.83,294.92L213.78,294.77L216.74,294.66L219.69,294.60L222.65,294.60L225.60,294.64L228.56,294.73L231.51,294.88L234.47,295.07L237.42,295.31L240.38,295.61L243.33,295.95L246.29,296.35L249.24,296.80L252.20,297.30L255.15,297.85L258.11,298.46L261.06,299.11L264.01,299.82L266.97,300.59L269.92,301.41L272.88,302.29L275.83,303.22L278.79,304.20L281.74,305.25L284.70,306.35L287.65,307.51L290.61,308.73L293.56,310.01L296.52,311.35L299.47,312.76L302.43,314.22L305.38,315.75L308.34,317.35L311.29,319.01L314.25,320.74L317.20,322.54L320.15,324.40L323.11,326.34L326.06,328.35L329.02,330.44L331.97,332.59L334.93,334.83L337.88,337.15L340.84,339.54L343.79,342.02L346.75,344.58L349.70,347.22L352.66,349.95L355.61,352.77L358.57,355.69L361.52,358.70L364.48,361.80L367.43,365.00L370.39,368.30L373.34,371.71L376.29,375.22L379.25,378.85L382.20,382.58L385.16,386.43L388.11,390.40" stroke="#181818" stroke-width="1.4" fill="none"/>
<path d="M36.50,433.00L38.97,427.18L41.45,421.62L43.92,416.33L46.40,411.27L48.87,406.43L51.35,401.80L53.82,397.36L56.29,393.10L58.77,389.02L61.24,385.09L63.72,381.32L66.19,377.70L68.66,374.21L71.14,370.86L73.61,367.62L76.09,364.51L78.56,361.51L81.04,358.62L83.51,355.83L85.98,353.15L88.46,350.55L90.93,348.06L93.41,345.65L95.88,343.32L98.36,341.08L100.83,338.92L103.30,336.84L105.78,334.84L108.25,332.91L110.73,331.05L113.20,329.25L115.67,327.53L118.15,325.87L120.62,324.28L123.10,322.75L125.57,321.29L128.05,319.88L130.52,318.53L132.99,317.25L135.47,316.02L137.94,314.84L140.42,313.72L142.89,312.66L145.37,311.65L147.84,310.70L150.31,309.79L152.79,308.94L155.26,308.14L157.74,307.40L160.21,306.70L162.68,306.05L165.16,305.46L167.63,304.91L170.11,304.42L172.58,303.97L175.06,303.57L177.53,303.22L180.00,302.92L182.48,302.67L184.95,302.47L187.43,302.31L189.90,302.20L192.38,302.15L194.85,302.14L197.32,302.18L199.80,302.27L202.27,302.41L204.75,302.59L207.22,302.83L209.69,303.12L212.17,303.45L214.64,303.84L217.12,304.28L219.59,304.77L222.07,305.31L224.54,305.90L227.01,306.54L229.49,307.24L231.96,307.99L234.44,308.79L236.91,309.65L239.39,310.56L241.86,311.53L244.33,312.56L246.81,313.64L249.28,314.78L251.76,315.98L254.23,317.24L256.71,318.56L259.18,319.93L261.65,321.38L264.13,322.88L266.60,324.45L269.08,326.08L271.55,327.78L274.02,329.55L276.50,331.39L278.97,333.29L281.45,335.27L283.92,337.32L286.40,339.44L288.87,341.64L291.34,343.92L293.82,346.28L296.29,348.71L298.77,351.23L301.24,353.83L303.72,356.52L306.19,359.30L308.66,362.17L311.14,365.12L313.61,368.18L316.09,371.33L318.56,374.58L321.03,377.93L323.51,381.38L325.98,384.94L328.46,388.61L330.93,392.40" stroke="#181818" stroke-width="1.4" fill="none"/>
<path d="M36.50,433.00L38.53,428.36L40.55,423.90L42.58,419.59L44.61,415.44L46.64,411.43L48.66,407.56L50.69,403.82L52.72,400.20L54.74,396.70L56.77,393.32L58.80,390.05L60.83,386.88L62.85,383.82L64.88,380.85L66.91,377.97L68.93,375.18L70.96,372.48L72.99,369.87L75.02,367.34L77.04,364.88L79.07,362.51L81.10,360.20L83.12,357.97L85.15,355.81L87.18,353.72L89.20,351.70L91.23,349.74L93.26,347.84L95.29,346.01L97.31,344.24L99.34,342.53L101.37,340.87L103.39,339.28L105.42,337.74L107.45,336.25L109.48,334.82L111.50,333.45L113.53,332.13L115.56,330.86L117.58,329.64L119.61,328.47L121.64,327.36L123.67,326.29L125.69,325.27L127.72,324.30L129.75,323.38L131.77,322.51L133.80,321.69L135.83,320.91L137.86,320.18L139.88,319.50L141.91,318.87L143.94,318.28L145.96,317.73L147.99,317.24L150.02,316.79L152.05,316.38L154.07,316.02L156.10,315.71L158.13,315.44L160.15,315.22L162.18,315.05L164.21,314.92L166.23,314.83L168.26,314.80L170.29,314.81L172.32,314.86L174.34,314.96L176.37,315.11L178.40,315.31L180.42,315.56L182.45,315.85L184.48,316.19L186.51,316.58L188.53,317.02L190.56,317.50L192.59,318.04L194.61,318.63L196.64,319.26L198.67,319.95L200.70,320.69L202.72,321.48L204.75,322.33L206.78,323.23L208.80,324.18L210.83,325.18L212.86,326.25L214.89,327.37L216.91,328.54L218.94,329.77L220.97,331.07L222.99,332.42L225.02,333.83L227.05,335.30L229.08,336.84L231.10,338.43L233.13,340.10L235.16,341.83L237.18,343.62L239.21,345.49L241.24,347.42L243.26,349.42L245.29,351.50L247.32,353.65L249.35,355.87L251.37,358.17L253.40,360.55L255.43,363.01L257.45,365.54L259.48,368.17L261.51,370.88L263.54,373.67L265.56,376.55L267.59,379.53L269.62,382.60L271.64,385.76L273.67,389.03L275.70,392.39L277.73,395.86" stroke="#181818" stroke-width="1.4" fill="none"/>
<path d="M36.50,433.00L38.09,429.88L39.68,426.83L41.27,423.84L42.86,420.93L44.46,418.09L46.05,415.31L47.64,412.59L49.23,409.94L50.82,407.34L52.41,404.81L54.00,402.33L55.59,399.92L57.18,397.55L58.78,395.25L60.37,392.99L61.96,390.79L63.55,388.64L65.14,386.54L66.73,384.49L68.32,382.50L69.91,380.55L71.50,378.64L73.10,376.79L74.69,374.98L76.28,373.22L77.87,371.50L79.46,369.83L81.05,368.21L82.64,366.62L84.23,365.09L85.83,363.59L87.42,362.14L89.01,360.73L90.60,359.36L92.19,358.03L93.78,356.75L95.37,355.50L96.96,354.30L98.55,353.14L100.15,352.02L101.74,350.93L103.33,349.89L104.92,348.89L106.51,347.93L108.10,347.01L109.69,346.12L111.28,345.28L112.87,344.47L114.47,343.71L116.06,342.98L117.65,342.30L119.24,341.65L120.83,341.04L122.42,340.47L124.01,339.94L125.60,339.45L127.19,339.00L128.79,338.58L130.38,338.21L131.97,337.88L133.56,337.58L135.15,337.33L136.74,337.12L138.33,336.94L139.92,336.81L141.51,336.72L143.11,336.66L144.70,336.65L146.29,336.68L147.88,336.75L149.47,336.86L151.06,337.02L152.65,337.22L154.24,337.46L155.84,337.74L157.43,338.07L159.02,338.44L160.61,338.85L162.20,339.31L163.79,339.81L165.38,340.36L166.97,340.96L168.56,341.60L170.16,342.29L171.75,343.02L173.34,343.81L174.93,344.64L176.52,345.52L178.11,346.46L179.70,347.44L181.29,348.47L182.88,349.56L184.48,350.70L186.07,351.89L187.66,353.14L189.25,354.44L190.84,355.80L192.43,357.22L194.02,358.69L195.61,360.22L197.20,361.81L198.80,363.47L200.39,365.18L201.98,366.96L203.57,368.80L205.16,370.71L206.75,372.68L208.34,374.73L209.93,376.84L211.52,379.02L213.12,381.27L214.71,383.60L216.30,386.01L217.89,388.49L219.48,391.04L221.07,393.68L222.66,396.40L224.25,399.21L225.85,402.10" stroke="#181818" stroke-width="1.4" fill="none"/>
<path d="M36.50,159.40L148.94,159.40L148.94,159.40L150.29,160.19L151.63,161.29L152.98,162.39L154.32,163.49L155.67,164.58L157.01,165.66L158.36,166.74L159.71,167.82L161.05,168.89L162.40,169.95L163.74,171.01L165.09,172.06L166.43,173.11L167.78,174.16L169.12,175.20L170.47,176.23L171.82,177.26L173.16,178.29L174.51,179.31L175.85,180.33L177.20,181.34L178.54,182.35L179.89,183.35L181.23,184.35L182.58,185.35L183.92,186.34L185.27,187.33L186.62,188.31L187.96,189.29L189.31,190.26L190.65,191.24L192.00,192.20L193.34,193.17L194.69,194.13L196.03,195.08L197.38,196.04L198.73,196.99L200.07,197.93L201.42,198.88L202.76,199.81L204.11,200.75L205.45,201.68L206.80,202.61L208.14,203.54L209.49,204.46L210.84,205.38L212.18,206.30L213.53,207.21L214.87,208.12L216.22,209.03L217.56,209.93L218.91,210.84L220.25,211.74L221.60,212.63L222.94,213.53L224.29,214.42L225.64,215.30L226.98,216.19L228.33,217.07L229.67,217.95L231.02,218.83L232.36,219.71L233.71,220.58L235.05,221.45L236.40,222.32L237.75,223.18L239.09,224.05L240.44,224.91L241.78,225.77L243.13,226.63L244.47,227.48L245.82,228.33L247.16,229.18L248.51,230.03L249.85,230.88L251.20,231.72L252.55,232.56L253.89,233.41L255.24,234.24L256.58,235.08L257.93,235.92L259.27,236.75L260.62,237.58L261.96,238.41L263.31,239.24L264.66,240.06L266.00,240.89L267.35,241.71L268.69,242.53L270.04,243.35L271.38,244.17L272.73,244.99L274.07,245.80L275.42,246.62L276.76,247.43L278.11,248.24L279.46,249.05L280.80,249.86L282.15,250.66L283.49,251.47L284.84,252.27L286.18,253.07L287.53,253.88L288.87,254.68L290.22,255.47L291.57,256.27L292.91,257.07L294.26,257.86L295.60,258.66L296.95,259.45L298.29,260.24L299.64,261.04L300.98,261.83L302.33,262.61L303.68,263.40L305.02,264.19L306.37,264.98L307.71,265.76L309.06,266.55L310.40,267.33L311.75,268.11L313.09,268.89L314.44,269.68L315.78,270.46L317.13,271.24L318.48,272.01L319.82,272.79L321.17,273.57L322.51,274.35L323.86,275.12L325.20,275.90L326.55,276.67L327.89,277.45L329.24,278.22L330.59,278.99L331.93,279.76L333.28,280.53L334.62,281.31L335.97,282.08L337.31,282.85L338.66,283.61L340.00,284.38L341.35,285.15L342.69,285.92L344.04,286.69L345.39,287.45L346.73,288.22L348.08,288.99L349.42,289.75L350.77,290.52L352.11,291.28L353.46,292.05L354.80,292.81L356.15,293.58L357.50,294.34L358.84,295.10L360.19,295.87L361.53,296.63L362.88,297.39L364.22,298.16L365.57,298.92L366.91,299.68L368.26,300.44L369.60,301.20L370.95,301.96L372.30,302.73L373.64,303.49L374.99,304.25L376.33,305.01L377.68,305.77L379.02,306.53L380.37,307.29L381.71,308.05L383.06,308.81L384.41,309.57L385.75,310.33L387.10,311.09L388.44,311.85L389.79,312.61L391.13,313.38L392.48,314.14L393.82,314.90L395.17,315.66L396.52,316.42L397.86,317.18L399.21,317.94L400.55,318.70L401.90,319.46L403.24,320.22L404.59,320.98L405.93,321.74L407.28,322.50L408.62,323.27L409.97,324.03L411.32,324.79L412.66,325.55L414.01,326.31L415.35,327.07L416.70,327.84L418.04,328.60L419.39,329.36L420.73,330.12L422.08,330.89L423.43,331.65L424.77,332.42L426.12,333.18L427.46,333.94L428.81,334.71L430.15,335.47L431.50,336.24L432.84,337.00L434.19,337.77L435.53,338.53L436.88,339.30L438.23,340.07L439.57,340.83L440.92,341.60L442.26,342.37L443.61,343.14L444.95,343.90L446.30,344.67L447.64,345.44L448.99,346.21L450.34,346.98L451.68,347.75L453.03,348.52L454.37,349.29L455.72,350.06L457.06,350.83L458.41,351.61L459.75,352.38L461.10,353.15L462.44,353.93L463.79,354.70L465.14,355.47L466.48,356.25L467.83,357.02L469.17,357.80L470.52,358.58L471.86,359.35L473.21,360.13L474.55,360.91L475.90,361.69L477.25,362.46L478.59,363.24L479.94,364.02L481.28,364.80L482.63,365.58L483.97,366.37L485.32,367.15L486.66,367.93L488.01,368.71L489.35,369.50L490.70,370.28L492.05,371.07L493.39,371.85L494.74,372.64L496.08,373.42L497.43,374.21L498.77,375.00L500.12,375.79L501.46,376.57L502.81,377.36L504.16,378.15L505.50,378.94L506.85,379.74L508.19,380.53L509.54,381.32L510.88,382.11L512.23,382.91L513.57,383.70L514.92,384.50L516.27,385.29L517.61,386.09L518.96,386.89L520.30,387.68L521.65,388.48L522.99,389.28L524.34,390.08L525.68,390.88L527.03,391.68L528.37,392.49L529.72,393.29L531.07,394.09L532.41,394.89L533.76,395.70L535.10,396.51L536.45,397.31L537.79,398.12L539.14,398.93L540.48,399.73L541.83,400.54L543.18,401.35L544.52,402.16L545.87,402.97L547.21,403.79L548.56,404.60L549.90,405.41L551.25,406.23" stroke="#263f74" stroke-width="2.5" fill="none" stroke-linejoin="round"/>
<path d="M36.50,433.00L40.81,425.19L45.12,417.88L49.43,411.03L53.74,404.58L58.04,398.51L62.35,392.77L66.66,387.35L70.97,382.21L75.28,377.34L79.59,372.71L83.90,368.30L88.21,364.11L92.51,360.11L96.82,356.30L101.13,352.66L105.44,349.18L109.75,345.86L114.06,342.67L118.37,339.63L122.68,336.71L126.98,333.91L131.29,331.24L135.60,328.67L139.91,326.21L144.22,323.85L148.53,321.59L152.84,319.42L157.15,317.34L161.45,315.35L165.76,313.44L170.07,311.62L174.38,309.87L178.69,308.20L183.00,306.60L187.31,305.07L191.62,303.61L195.93,302.23L200.23,300.90L204.54,299.64L208.85,298.45L213.16,297.32L217.47,296.24L221.78,295.23L226.09,294.28L230.40,293.38L234.70,292.54L239.01,291.76L243.32,291.03L247.63,290.36L251.94,289.74L256.25,289.18L260.56,288.66L264.87,288.21L269.17,287.80L273.48,287.44L277.79,287.14L282.10,286.89L286.41,286.69L290.72,286.54L295.03,286.44L299.34,286.39L303.65,286.40L307.95,286.45L312.26,286.55L316.57,286.71L320.88,286.92L325.19,287.18L329.50,287.49L333.81,287.85L338.12,288.26L342.42,288.73L346.73,289.25L351.04,289.82L355.35,290.44L359.66,291.12L363.97,291.85L368.28,292.64L372.59,293.48L376.89,294.38L381.20,295.33L385.51,296.35L389.82,297.42L394.13,298.54L398.44,299.73L402.75,300.98L407.06,302.29L411.36,303.66L415.67,305.09L419.98,306.59L424.29,308.15L428.60,309.77L432.91,311.47L437.22,313.23L441.53,315.06L445.84,316.96L450.14,318.94L454.45,320.98L458.76,323.10L463.07,325.30L467.38,327.58L471.69,329.93L476.00,332.37L480.31,334.89L484.61,337.49L488.92,340.18L493.23,342.96L497.54,345.83L501.85,348.80L506.16,351.86L510.47,355.01L514.78,358.27L519.08,361.63L523.39,365.10L527.70,368.67L532.01,372.36L536.32,376.16L540.63,380.07L544.94,384.11L549.25,388.28" stroke="#181818" stroke-width="1.6" fill="none"/>
<path d="M250.12,292.96L252.14,292.52L254.16,292.09L256.18,291.68L258.20,291.28L260.22,290.90L262.25,290.53L264.27,290.17L266.29,289.83L268.31,289.50L270.33,289.18L272.35,288.88L274.37,288.59L276.39,288.31L278.41,288.05L280.43,287.80L282.46,287.57L284.48,287.34L286.50,287.14L288.52,286.94L290.54,286.76L292.56,286.59L294.58,286.44L296.60,286.30L298.62,286.17L300.64,286.05L302.67,285.95L304.69,285.87L306.71,285.80L308.73,285.74L310.75,285.69L312.77,285.66L314.79,285.64L316.81,285.64L318.83,285.65L320.85,285.67L322.88,285.71L324.90,285.76L326.92,285.82L328.94,285.90L330.96,285.99L332.98,286.10L335.00,286.22L337.02,286.36L339.04,286.50L341.06,286.67L343.09,286.84L345.11,287.03L347.13,287.24L349.15,287.46L351.17,287.69L353.19,287.94L355.21,288.20L357.23,288.48L359.25,288.77L361.27,289.08L363.30,289.40L365.32,289.73L367.34,290.08L369.36,290.44L371.38,290.82L373.40,291.21L375.42,291.62L377.44,292.04L379.46,292.48L381.48,292.93L383.51,293.39L385.53,293.88L387.55,294.37L389.57,294.88L391.59,295.41L393.61,295.95L395.63,296.51L397.65,297.08L399.67,297.66L401.69,298.26L403.72,298.88L405.74,299.51L407.76,300.16L409.78,300.82L411.80,301.50L413.82,302.19L415.84,302.90L417.86,303.63L419.88,304.37L421.90,305.12L423.93,305.90L425.95,306.68L427.97,307.49L429.99,308.31L432.01,309.14L434.03,309.99L436.05,310.86L438.07,311.74L440.09,312.64L442.11,313.55L444.14,314.49L446.16,315.43L448.18,316.40L450.20,317.38L452.22,318.37L454.24,319.39L456.26,320.41L458.28,321.46L460.30,322.52L462.32,323.60L464.35,324.70L466.37,325.81L468.39,326.94L470.41,328.08L472.43,329.24L474.45,330.42L476.47,331.62L478.49,332.83L480.51,334.06L482.53,335.31L484.56,336.58L486.58,337.86L488.60,339.16L490.62,340.47L492.64,341.81L494.66,343.16L496.68,344.53L498.70,345.91L500.72,347.32L502.74,348.74L504.77,350.18L506.79,351.63L508.81,353.11L510.83,354.60L512.85,356.11L514.87,357.64L516.89,359.18L518.91,360.75L520.93,362.33L522.95,363.93L524.98,365.55L527.00,367.18L529.02,368.84L531.04,370.51L533.06,372.20L535.08,373.91L537.10,375.64L539.12,377.39L541.14,379.15L543.16,380.94L545.19,382.74L547.21,384.56L549.23,386.40L551.25,388.26" stroke="#181818" stroke-width="2.4" fill="none" stroke-linecap="round"/>
<path d="M36.5,255.16L281.39,255.16" stroke="#7c7c7c" stroke-width="1.4"/>
<path d="M281.39,433L281.39,255.16" stroke="#3a3a50" stroke-width="1"/>
<circle cx="281.39" cy="255.16" r="3.3" fill="#f2c21e" stroke="#e8a010" stroke-width="0.8"/>
<circle cx="281.39" cy="287.99" r="3.5" fill="#ee2020"/>
<path d="M75.34,450.5L75.34,644.2M114.18,450.5L114.18,644.2M153.02,450.5L153.02,644.2M191.86,450.5L191.86,644.2M230.70,450.5L230.70,644.2M269.54,450.5L269.54,644.2M308.38,450.5L308.38,644.2M347.22,450.5L347.22,644.2M386.06,450.5L386.06,644.2M424.90,450.5L424.90,644.2M463.74,450.5L463.74,644.2M502.58,450.5L502.58,644.2M541.42,450.5L541.42,644.2M580.26,450.5L580.26,644.2M619.10,450.5L619.10,644.2M657.94,450.5L657.94,644.2M36.5,625.25L684,625.25M36.5,606.30L684,606.30M36.5,587.35L684,587.35M36.5,568.40L684,568.40M36.5,549.45L684,549.45M36.5,530.50L684,530.50M36.5,511.55L684,511.55M36.5,492.60L684,492.60M36.5,473.65L684,473.65M36.5,454.70L684,454.70" stroke="#d5d5d5" stroke-width="1.5" fill="none"/>
<path d="M36.5,450.5L684,450.5L684,644.2" stroke="#b4b4b4" stroke-width="1.6" fill="none"/>
<path d="M36.50,549.49L148.94,483.13L551.25,483.13L551.25,483.13L545.73,488.13L540.22,493.02L534.70,497.81L529.19,502.50L523.67,507.08L518.16,511.55L512.64,515.93L507.13,520.21L501.61,524.38L496.10,528.46L490.58,532.44L485.06,536.33L479.55,540.12L474.03,543.82L468.52,547.43L463.00,550.95L457.49,554.37L451.97,557.71L446.46,560.96L440.94,564.13L435.43,567.20L429.91,570.20L424.40,573.11L418.88,575.94L413.37,578.69L407.85,581.36L402.33,583.96L396.82,586.47L391.30,588.91L385.79,591.28L380.27,593.57L374.76,595.79L369.24,597.93L363.73,600.01L358.21,602.02L352.70,603.96L347.18,605.84L341.67,607.65L336.15,609.39L330.64,611.07L325.12,612.69L319.61,614.25L314.09,615.75L308.57,617.20L303.06,618.58L297.54,619.91L292.03,621.18L286.51,622.40L281.00,623.57L275.48,624.68L269.97,625.75L264.45,626.76L258.94,627.73L253.42,628.65L247.91,629.53L242.39,630.36L236.88,631.14L231.36,631.89L225.85,632.59L225.85,632.59L222.64,632.57L219.43,632.56L216.22,632.55L213.01,632.55L209.80,632.55L206.59,632.55L203.38,632.57L200.17,632.58L196.96,632.60L193.75,632.63L190.54,632.66L187.33,632.70L184.12,632.74L180.92,632.78L177.71,632.83L174.50,632.89L171.29,632.94L168.08,633.01L164.87,633.07L161.66,633.14L158.45,633.22L155.24,633.30L152.03,633.38L148.82,633.47L145.61,633.56L142.40,633.65L139.20,633.75L135.99,633.85L132.78,633.95L129.57,634.06L126.36,634.17L123.15,634.29L119.94,634.40L116.73,634.52L113.52,634.65L110.31,634.77L107.10,634.90L103.89,635.03L100.68,635.17L97.48,635.30L94.27,635.44L91.06,635.59L87.85,635.73L84.64,635.88L81.43,636.03L78.22,636.18L75.01,636.33L71.80,636.49L68.59,636.64L65.38,636.80L62.17,636.96L58.96,637.13L55.76,637.29L52.55,637.46L49.34,637.62L46.13,637.79L42.92,637.96L39.71,638.13L36.50,638.31Z" fill="#c3cfdc" fill-opacity="0.83"/>
<rect x="486" y="629" width="197" height="14" fill="#ffffff"/>
<path d="M36.9,450.5L36.9,644.9" stroke="#656565" stroke-width="1.8"/>
<path d="M36.5,644.2L684.9,644.2" stroke="#8a8a8a" stroke-width="1.8"/>
<path d="M33,644.20L36.5,644.20M33,625.25L36.5,625.25M33,606.30L36.5,606.30M33,587.35L36.5,587.35M33,568.40L36.5,568.40M33,549.45L36.5,549.45M33,530.50L36.5,530.50M33,511.55L36.5,511.55M33,492.60L36.5,492.60M33,473.65L36.5,473.65M33,454.70L36.5,454.70" stroke="#656565" stroke-width="1.2"/>
<path d="M36.50,566.03L37.78,565.29L39.06,564.55L40.35,563.80L41.63,563.06L42.91,562.32L44.19,561.58L45.48,560.84L46.76,560.10L48.04,559.37L49.32,558.63L50.61,557.89L51.89,557.16L53.17,556.42L54.45,555.69L55.74,554.95L57.02,554.22L58.30,553.48L59.58,552.75L60.87,552.02L62.15,551.29L63.43,550.56L64.71,549.83L66.00,549.10L67.28,548.37L68.56,547.65L69.84,546.92L71.13,546.19L72.41,545.47L73.69,544.75L74.97,544.02L76.26,543.30L77.54,542.58L78.82,541.86L80.10,541.13L81.39,540.41L82.67,539.70L83.95,538.98L85.23,538.26L86.51,537.54L87.80,536.83L89.08,536.11L90.36,535.40L91.64,534.68L92.93,533.97L94.21,533.26L95.49,532.55L96.77,531.84L98.06,531.13L99.34,530.42L100.62,529.71L101.90,529.00L103.19,528.30L104.47,527.59L105.75,526.89L107.03,526.18L108.32,525.48L109.60,524.78L110.88,524.08L112.16,523.38L113.45,522.68L114.73,521.98L116.01,521.28L117.29,520.58L118.58,519.89L119.86,519.19L121.14,518.50L122.42,517.81L123.71,517.11L124.99,516.42L126.27,515.73L127.55,515.04L128.84,514.35L130.12,513.67L131.40,512.98L132.68,512.29L133.96,511.61L135.25,510.92L136.53,510.24L137.81,509.56L139.09,508.88L140.38,508.20L141.66,507.52L142.94,506.84L144.22,506.16L145.51,505.49L146.79,504.81L148.07,504.14L149.35,503.47L150.64,502.79L151.92,502.12L153.20,501.45L154.48,500.78L155.77,500.12L157.05,499.45L158.33,498.78L159.61,498.12L160.90,497.45L162.18,496.79L163.46,496.13L164.74,495.47L166.03,494.81L167.31,494.15L168.59,493.49L169.87,492.84L171.16,492.18L172.44,491.53L173.72,490.87L175.00,490.22L176.28,489.57L177.57,488.92L178.85,488.27L180.13,487.63L181.41,486.98L182.70,486.33L183.98,485.69L185.26,485.05L186.54,484.41L187.83,483.76L189.11,483.13" stroke="#33476d" stroke-width="1.7" fill="none"/>
<path d="M36.50,583.58L38.49,582.62L40.48,581.65L42.47,580.69L44.46,579.73L46.45,578.78L48.44,577.82L50.43,576.87L52.42,575.91L54.40,574.96L56.39,574.01L58.38,573.06L60.37,572.11L62.36,571.17L64.35,570.22L66.34,569.28L68.33,568.34L70.32,567.40L72.31,566.46L74.30,565.52L76.29,564.59L78.28,563.66L80.27,562.73L82.26,561.80L84.25,560.87L86.24,559.94L88.23,559.02L90.21,558.09L92.20,557.17L94.19,556.25L96.18,555.34L98.17,554.42L100.16,553.51L102.15,552.60L104.14,551.69L106.13,550.78L108.12,549.87L110.11,548.97L112.10,548.06L114.09,547.16L116.08,546.27L118.07,545.37L120.06,544.48L122.05,543.58L124.03,542.69L126.02,541.81L128.01,540.92L130.00,540.04L131.99,539.16L133.98,538.28L135.97,537.40L137.96,536.52L139.95,535.65L141.94,534.78L143.93,533.91L145.92,533.05L147.91,532.18L149.90,531.32L151.89,530.46L153.88,529.60L155.87,528.75L157.85,527.90L159.84,527.05L161.83,526.20L163.82,525.36L165.81,524.51L167.80,523.67L169.79,522.83L171.78,522.00L173.77,521.17L175.76,520.34L177.75,519.51L179.74,518.68L181.73,517.86L183.72,517.04L185.71,516.23L187.70,515.41L189.69,514.60L191.68,513.79L193.66,512.98L195.65,512.18L197.64,511.38L199.63,510.58L201.62,509.78L203.61,508.99L205.60,508.20L207.59,507.41L209.58,506.63L211.57,505.85L213.56,505.07L215.55,504.29L217.54,503.52L219.53,502.75L221.52,501.98L223.51,501.22L225.50,500.46L227.48,499.70L229.47,498.94L231.46,498.19L233.45,497.44L235.44,496.70L237.43,495.95L239.42,495.21L241.41,494.48L243.40,493.74L245.39,493.01L247.38,492.29L249.37,491.56L251.36,490.84L253.35,490.12L255.34,489.41L257.33,488.70L259.32,487.99L261.30,487.28L263.29,486.58L265.28,485.88L267.27,485.19L269.26,484.50L271.25,483.81L273.24,483.13" stroke="#33476d" stroke-width="1.7" fill="none"/>
<path d="M36.50,586.71L38.68,585.69L40.86,584.68L43.04,583.66L45.22,582.65L47.40,581.64L49.58,580.63L51.76,579.63L53.94,578.62L56.12,577.62L58.30,576.62L60.48,575.62L62.67,574.62L64.85,573.62L67.03,572.63L69.21,571.64L71.39,570.65L73.57,569.66L75.75,568.67L77.93,567.69L80.11,566.71L82.29,565.73L84.47,564.75L86.65,563.77L88.83,562.80L91.01,561.82L93.19,560.85L95.37,559.89L97.55,558.92L99.73,557.96L101.91,556.99L104.09,556.03L106.27,555.08L108.45,554.12L110.63,553.17L112.82,552.22L115.00,551.27L117.18,550.33L119.36,549.39L121.54,548.44L123.72,547.51L125.90,546.57L128.08,545.64L130.26,544.71L132.44,543.78L134.62,542.85L136.80,541.93L138.98,541.01L141.16,540.09L143.34,539.18L145.52,538.27L147.70,537.36L149.88,536.45L152.06,535.55L154.24,534.65L156.42,533.75L158.60,532.85L160.78,531.96L162.97,531.07L165.15,530.18L167.33,529.30L169.51,528.42L171.69,527.54L173.87,526.66L176.05,525.79L178.23,524.92L180.41,524.06L182.59,523.19L184.77,522.33L186.95,521.48L189.13,520.62L191.31,519.77L193.49,518.92L195.67,518.08L197.85,517.24L200.03,516.40L202.21,515.57L204.39,514.74L206.57,513.91L208.75,513.08L210.93,512.26L213.12,511.44L215.30,510.63L217.48,509.82L219.66,509.01L221.84,508.21L224.02,507.41L226.20,506.61L228.38,505.82L230.56,505.03L232.74,504.24L234.92,503.46L237.10,502.68L239.28,501.91L241.46,501.14L243.64,500.37L245.82,499.60L248.00,498.84L250.18,498.09L252.36,497.34L254.54,496.59L256.72,495.84L258.90,495.10L261.08,494.37L263.27,493.63L265.45,492.90L267.63,492.18L269.81,491.46L271.99,490.74L274.17,490.03L276.35,489.32L278.53,488.61L280.71,487.91L282.89,487.22L285.07,486.52L287.25,485.84L289.43,485.15L291.61,484.47L293.79,483.80L295.97,483.13" stroke="#33476d" stroke-width="2.2" fill="none"/>
<path d="M36.50,598.40L40.81,596.70L45.12,595.00L49.43,593.31L53.74,591.62L58.04,589.95L62.35,588.27L66.66,586.61L70.97,584.95L75.28,583.29L79.59,581.65L83.90,580.01L88.21,578.38L92.51,576.76L96.82,575.14L101.13,573.53L105.44,571.94L109.75,570.35L114.06,568.76L118.37,567.19L122.68,565.63L126.98,564.07L131.29,562.53L135.60,560.99L139.91,559.46L144.22,557.95L148.53,556.44L152.84,554.95L157.15,553.46L161.45,551.98L165.76,550.52L170.07,549.07L174.38,547.62L178.69,546.19L183.00,544.77L187.31,543.36L191.62,541.97L195.93,540.58L200.23,539.21L204.54,537.85L208.85,536.51L213.16,535.17L217.47,533.85L221.78,532.54L226.09,531.25L230.40,529.96L234.70,528.70L239.01,527.44L243.32,526.20L247.63,524.97L251.94,523.76L256.25,522.56L260.56,521.38L264.87,520.21L269.17,519.06L273.48,517.92L277.79,516.80L282.10,515.69L286.41,514.60L290.72,513.53L295.03,512.47L299.34,511.43L303.65,510.40L307.95,509.39L312.26,508.40L316.57,507.42L320.88,506.46L325.19,505.52L329.50,504.60L333.81,503.69L338.12,502.81L342.42,501.94L346.73,501.09L351.04,500.25L355.35,499.44L359.66,498.64L363.97,497.87L368.28,497.11L372.59,496.37L376.89,495.65L381.20,494.95L385.51,494.27L389.82,493.61L394.13,492.97L398.44,492.36L402.75,491.76L407.06,491.18L411.36,490.62L415.67,490.09L419.98,489.58L424.29,489.08L428.60,488.61L432.91,488.16L437.22,487.74L441.53,487.33L445.84,486.95L450.14,486.59L454.45,486.25L458.76,485.94L463.07,485.65L467.38,485.38L471.69,485.14L476.00,484.92L480.31,484.72L484.61,484.55L488.92,484.40L493.23,484.27L497.54,484.17L501.85,484.10L506.16,484.05L510.47,484.02L514.78,484.02L519.08,484.05L523.39,484.10L527.70,484.18L532.01,484.28L536.32,484.41L540.63,484.56L544.94,484.74L549.25,484.95" stroke="#33476d" stroke-width="1.7" fill="none"/>
<path d="M36.50,610.44L40.35,609.22L44.20,608.01L48.05,606.80L51.90,605.60L55.75,604.40L59.60,603.20L63.45,602.01L67.30,600.83L71.15,599.65L75.01,598.48L78.86,597.31L82.71,596.14L86.56,594.99L90.41,593.83L94.26,592.69L98.11,591.55L101.96,590.41L105.81,589.28L109.66,588.16L113.51,587.04L117.36,585.93L121.21,584.83L125.06,583.73L128.91,582.64L132.76,581.56L136.61,580.49L140.46,579.42L144.32,578.36L148.17,577.31L152.02,576.26L155.87,575.22L159.72,574.19L163.57,573.17L167.42,572.16L171.27,571.15L175.12,570.16L178.97,569.17L182.82,568.19L186.67,567.22L190.52,566.26L194.37,565.31L198.22,564.36L202.07,563.43L205.92,562.51L209.77,561.59L213.63,560.69L217.48,559.79L221.33,558.91L225.18,558.03L229.03,557.17L232.88,556.31L236.73,555.47L240.58,554.63L244.43,553.81L248.28,553.00L252.13,552.20L255.98,551.41L259.83,550.63L263.68,549.86L267.53,549.11L271.38,548.36L275.23,547.63L279.08,546.91L282.93,546.20L286.79,545.50L290.64,544.82L294.49,544.15L298.34,543.49L302.19,542.84L306.04,542.21L309.89,541.59L313.74,540.98L317.59,540.39L321.44,539.81L325.29,539.24L329.14,538.68L332.99,538.14L336.84,537.62L340.69,537.10L344.54,536.60L348.39,536.12L352.24,535.65L356.10,535.19L359.95,534.75L363.80,534.32L367.65,533.91L371.50,533.52L375.35,533.13L379.20,532.77L383.05,532.42L386.90,532.08L390.75,531.76L394.60,531.45L398.45,531.17L402.30,530.89L406.15,530.64L410.00,530.40L413.85,530.17L417.70,529.96L421.55,529.77L425.41,529.60L429.26,529.44L433.11,529.30L436.96,529.18L440.81,529.07L444.66,528.98L448.51,528.91L452.36,528.86L456.21,528.82L460.06,528.80L463.91,528.80L467.76,528.82L471.61,528.86L475.46,528.91L479.31,528.99L483.16,529.08L487.01,529.19L490.86,529.32L494.71,529.47" stroke="#33476d" stroke-width="1.7" fill="none"/>
<path d="M36.50,619.69L39.91,618.85L43.31,618.01L46.72,617.17L50.12,616.34L53.53,615.51L56.93,614.69L60.34,613.86L63.74,613.04L67.15,612.23L70.55,611.42L73.96,610.61L77.36,609.80L80.77,609.00L84.17,608.21L87.58,607.41L90.98,606.62L94.39,605.84L97.79,605.06L101.20,604.28L104.60,603.51L108.01,602.74L111.41,601.98L114.82,601.22L118.22,600.47L121.63,599.72L125.03,598.98L128.44,598.24L131.84,597.51L135.25,596.78L138.65,596.05L142.06,595.34L145.46,594.63L148.87,593.92L152.27,593.22L155.68,592.52L159.08,591.83L162.49,591.15L165.89,590.47L169.30,589.80L172.70,589.14L176.11,588.48L179.51,587.83L182.92,587.18L186.32,586.54L189.73,585.91L193.13,585.28L196.54,584.67L199.94,584.05L203.35,583.45L206.75,582.85L210.16,582.26L213.56,581.67L216.97,581.10L220.37,580.53L223.78,579.97L227.18,579.41L230.59,578.87L233.99,578.33L237.40,577.80L240.80,577.28L244.21,576.76L247.61,576.26L251.02,575.76L254.42,575.27L257.83,574.79L261.23,574.31L264.64,573.85L268.04,573.39L271.45,572.95L274.85,572.51L278.26,572.08L281.66,571.66L285.07,571.25L288.47,570.85L291.88,570.45L295.28,570.07L298.69,569.70L302.09,569.33L305.50,568.98L308.90,568.63L312.31,568.30L315.71,567.97L319.12,567.66L322.52,567.35L325.93,567.06L329.33,566.77L332.74,566.50L336.14,566.23L339.55,565.98L342.95,565.74L346.36,565.50L349.76,565.28L353.17,565.07L356.57,564.87L359.98,564.68L363.38,564.50L366.79,564.34L370.19,564.18L373.60,564.04L377.00,563.91L380.41,563.79L383.81,563.68L387.22,563.58L390.62,563.50L394.03,563.42L397.43,563.36L400.84,563.31L404.24,563.28L407.65,563.25L411.05,563.24L414.46,563.24L417.86,563.25L421.27,563.28L424.67,563.31L428.08,563.36L431.48,563.43L434.89,563.50L438.29,563.59L441.70,563.70" stroke="#33476d" stroke-width="1.7" fill="none"/>
<path d="M36.50,626.87L39.45,626.32L42.41,625.78L45.36,625.23L48.32,624.69L51.27,624.15L54.23,623.61L57.18,623.07L60.14,622.53L63.09,622.00L66.05,621.47L69.00,620.94L71.96,620.42L74.91,619.89L77.87,619.37L80.82,618.85L83.78,618.34L86.73,617.82L89.69,617.31L92.64,616.81L95.59,616.30L98.55,615.80L101.50,615.30L104.46,614.81L107.41,614.32L110.37,613.83L113.32,613.34L116.28,612.86L119.23,612.38L122.19,611.90L125.14,611.43L128.10,610.96L131.05,610.50L134.01,610.04L136.96,609.58L139.92,609.12L142.87,608.67L145.83,608.23L148.78,607.79L151.73,607.35L154.69,606.91L157.64,606.48L160.60,606.06L163.55,605.63L166.51,605.22L169.46,604.80L172.42,604.39L175.37,603.99L178.33,603.59L181.28,603.19L184.24,602.80L187.19,602.42L190.15,602.04L193.10,601.66L196.06,601.29L199.01,600.92L201.97,600.56L204.92,600.20L207.87,599.85L210.83,599.50L213.78,599.16L216.74,598.83L219.69,598.49L222.65,598.17L225.60,597.85L228.56,597.53L231.51,597.23L234.47,596.92L237.42,596.62L240.38,596.33L243.33,596.05L246.29,595.77L249.24,595.49L252.20,595.22L255.15,594.96L258.11,594.70L261.06,594.45L264.01,594.21L266.97,593.97L269.92,593.74L272.88,593.51L275.83,593.29L278.79,593.08L281.74,592.87L284.70,592.68L287.65,592.48L290.61,592.30L293.56,592.12L296.52,591.94L299.47,591.78L302.43,591.62L305.38,591.47L308.34,591.32L311.29,591.19L314.25,591.06L317.20,590.93L320.15,590.82L323.11,590.71L326.06,590.61L329.02,590.51L331.97,590.43L334.93,590.35L337.88,590.28L340.84,590.21L343.79,590.16L346.75,590.11L349.70,590.07L352.66,590.04L355.61,590.01L358.57,590.00L361.52,589.99L364.48,589.99L367.43,590.00L370.39,590.01L373.34,590.04L376.29,590.07L379.25,590.11L382.20,590.16L385.16,590.22L388.11,590.29" stroke="#33476d" stroke-width="1.7" fill="none"/>
<path d="M36.50,632.47L38.97,632.14L41.45,631.82L43.92,631.50L46.40,631.18L48.87,630.87L51.35,630.55L53.82,630.23L56.29,629.92L58.77,629.61L61.24,629.29L63.72,628.98L66.19,628.68L68.66,628.37L71.14,628.06L73.61,627.76L76.09,627.46L78.56,627.15L81.04,626.85L83.51,626.56L85.98,626.26L88.46,625.97L90.93,625.67L93.41,625.38L95.88,625.09L98.36,624.81L100.83,624.52L103.30,624.24L105.78,623.96L108.25,623.68L110.73,623.40L113.20,623.13L115.67,622.85L118.15,622.58L120.62,622.31L123.10,622.05L125.57,621.78L128.05,621.52L130.52,621.26L132.99,621.00L135.47,620.75L137.94,620.49L140.42,620.24L142.89,620.00L145.37,619.75L147.84,619.51L150.31,619.27L152.79,619.03L155.26,618.80L157.74,618.56L160.21,618.33L162.68,618.11L165.16,617.88L167.63,617.66L170.11,617.44L172.58,617.23L175.06,617.02L177.53,616.81L180.00,616.60L182.48,616.40L184.95,616.20L187.43,616.00L189.90,615.80L192.38,615.61L194.85,615.43L197.32,615.24L199.80,615.06L202.27,614.88L204.75,614.71L207.22,614.53L209.69,614.37L212.17,614.20L214.64,614.04L217.12,613.88L219.59,613.73L222.07,613.58L224.54,613.43L227.01,613.29L229.49,613.15L231.96,613.01L234.44,612.88L236.91,612.75L239.39,612.63L241.86,612.50L244.33,612.39L246.81,612.27L249.28,612.16L251.76,612.06L254.23,611.96L256.71,611.86L259.18,611.77L261.65,611.68L264.13,611.59L266.60,611.51L269.08,611.44L271.55,611.36L274.02,611.30L276.50,611.23L278.97,611.17L281.45,611.12L283.92,611.07L286.40,611.02L288.87,610.98L291.34,610.94L293.82,610.91L296.29,610.88L298.77,610.86L301.24,610.84L303.72,610.82L306.19,610.81L308.66,610.81L311.14,610.81L313.61,610.81L316.09,610.82L318.56,610.84L321.03,610.86L323.51,610.88L325.98,610.91L328.46,610.95L330.93,610.99" stroke="#33476d" stroke-width="1.7" fill="none"/>
<path d="M36.50,636.05L38.53,635.87L40.55,635.69L42.58,635.52L44.61,635.34L46.64,635.17L48.66,634.99L50.69,634.82L52.72,634.65L54.74,634.47L56.77,634.30L58.80,634.13L60.83,633.96L62.85,633.79L64.88,633.63L66.91,633.46L68.93,633.29L70.96,633.13L72.99,632.96L75.02,632.80L77.04,632.63L79.07,632.47L81.10,632.31L83.12,632.15L85.15,631.99L87.18,631.83L89.20,631.68L91.23,631.52L93.26,631.37L95.29,631.21L97.31,631.06L99.34,630.91L101.37,630.76L103.39,630.61L105.42,630.46L107.45,630.32L109.48,630.17L111.50,630.03L113.53,629.88L115.56,629.74L117.58,629.60L119.61,629.46L121.64,629.33L123.67,629.19L125.69,629.05L127.72,628.92L129.75,628.79L131.77,628.66L133.80,628.53L135.83,628.40L137.86,628.28L139.88,628.15L141.91,628.03L143.94,627.91L145.96,627.79L147.99,627.67L150.02,627.55L152.05,627.44L154.07,627.32L156.10,627.21L158.13,627.10L160.15,626.99L162.18,626.88L164.21,626.78L166.23,626.68L168.26,626.57L170.29,626.47L172.32,626.38L174.34,626.28L176.37,626.19L178.40,626.09L180.42,626.00L182.45,625.91L184.48,625.83L186.51,625.74L188.53,625.66L190.56,625.58L192.59,625.50L194.61,625.42L196.64,625.35L198.67,625.28L200.70,625.20L202.72,625.14L204.75,625.07L206.78,625.00L208.80,624.94L210.83,624.88L212.86,624.82L214.89,624.77L216.91,624.72L218.94,624.66L220.97,624.62L222.99,624.57L225.02,624.52L227.05,624.48L229.08,624.44L231.10,624.40L233.13,624.37L235.16,624.34L237.18,624.31L239.21,624.28L241.24,624.25L243.26,624.23L245.29,624.21L247.32,624.19L249.35,624.18L251.37,624.16L253.40,624.15L255.43,624.15L257.45,624.14L259.48,624.14L261.51,624.14L263.54,624.14L265.56,624.15L267.59,624.15L269.62,624.16L271.64,624.18L273.67,624.19L275.70,624.21L277.73,624.23" stroke="#33476d" stroke-width="1.7" fill="none"/>
<path d="M36.50,638.31L38.09,638.22L39.68,638.14L41.27,638.05L42.86,637.97L44.46,637.88L46.05,637.80L47.64,637.71L49.23,637.63L50.82,637.55L52.41,637.46L54.00,637.38L55.59,637.30L57.18,637.22L58.78,637.14L60.37,637.05L61.96,636.97L63.55,636.89L65.14,636.81L66.73,636.73L68.32,636.66L69.91,636.58L71.50,636.50L73.10,636.42L74.69,636.35L76.28,636.27L77.87,636.19L79.46,636.12L81.05,636.04L82.64,635.97L84.23,635.90L85.83,635.82L87.42,635.75L89.01,635.68L90.60,635.61L92.19,635.54L93.78,635.46L95.37,635.40L96.96,635.33L98.55,635.26L100.15,635.19L101.74,635.12L103.33,635.06L104.92,634.99L106.51,634.92L108.10,634.86L109.69,634.80L111.28,634.73L112.87,634.67L114.47,634.61L116.06,634.55L117.65,634.49L119.24,634.43L120.83,634.37L122.42,634.31L124.01,634.25L125.60,634.20L127.19,634.14L128.79,634.09L130.38,634.03L131.97,633.98L133.56,633.93L135.15,633.88L136.74,633.82L138.33,633.77L139.92,633.73L141.51,633.68L143.11,633.63L144.70,633.58L146.29,633.54L147.88,633.49L149.47,633.45L151.06,633.41L152.65,633.36L154.24,633.32L155.84,633.28L157.43,633.24L159.02,633.21L160.61,633.17L162.20,633.13L163.79,633.10L165.38,633.06L166.97,633.03L168.56,633.00L170.16,632.97L171.75,632.94L173.34,632.91L174.93,632.88L176.52,632.85L178.11,632.83L179.70,632.80L181.29,632.78L182.88,632.76L184.48,632.73L186.07,632.71L187.66,632.69L189.25,632.68L190.84,632.66L192.43,632.64L194.02,632.63L195.61,632.62L197.20,632.60L198.80,632.59L200.39,632.58L201.98,632.57L203.57,632.57L205.16,632.56L206.75,632.55L208.34,632.55L209.93,632.55L211.52,632.55L213.12,632.55L214.71,632.55L216.30,632.55L217.89,632.55L219.48,632.56L221.07,632.57L222.66,632.57L224.25,632.58L225.85,632.59" stroke="#33476d" stroke-width="1.7" fill="none"/>
<path d="M36.50,549.49L148.94,483.13L551.25,483.13" stroke="#263f74" stroke-width="2.6" fill="none" stroke-linejoin="round"/>
<circle cx="281.39" cy="487.33" r="3.3" fill="#ee2020"/>
<g font-family="Liberation Sans, sans-serif" fill="#2e2e2e" stroke="#2e2e2e" stroke-width="0.2" letter-spacing="0.30">
<text x="16.45" y="75.80" text-anchor="middle" font-size="9.3" >H</text>
<text x="16.65" y="87.20" text-anchor="middle" font-size="9.3" >[m]</text>
<text x="29.80" y="436.60" text-anchor="end" font-size="9.3" >0</text>
<text x="29.80" y="413.80" text-anchor="end" font-size="9.3" >1</text>
<text x="29.80" y="391.00" text-anchor="end" font-size="9.3" >2</text>
<text x="29.80" y="368.20" text-anchor="end" font-size="9.3" >3</text>
<text x="29.80" y="345.40" text-anchor="end" font-size="9.3" >4</text>
<text x="29.80" y="322.60" text-anchor="end" font-size="9.3" >5</text>
<text x="29.80" y="299.80" text-anchor="end" font-size="9.3" >6</text>
<text x="29.80" y="277.00" text-anchor="end" font-size="9.3" >7</text>
<text x="29.80" y="254.20" text-anchor="end" font-size="9.3" >8</text>
<text x="29.80" y="231.40" text-anchor="end" font-size="9.3" >9</text>
<text x="29.80" y="208.60" text-anchor="end" font-size="9.3" >10</text>
<text x="29.80" y="185.80" text-anchor="end" font-size="9.3" >11</text>
<text x="29.80" y="163.00" text-anchor="end" font-size="9.3" >12</text>
<text x="29.80" y="140.20" text-anchor="end" font-size="9.3" >13</text>
<text x="29.80" y="117.40" text-anchor="end" font-size="9.3" >14</text>
<text x="706.65" y="76.50" text-anchor="middle" font-size="9.3" >eta</text>
<text x="706.15" y="87.30" text-anchor="middle" font-size="9.3" >[%]</text>
<text x="691.50" y="436.60" text-anchor="start" font-size="9.3" >0</text>
<text x="691.50" y="413.80" text-anchor="start" font-size="9.3" >10</text>
<text x="691.50" y="391.00" text-anchor="start" font-size="9.3" >20</text>
<text x="691.50" y="368.20" text-anchor="start" font-size="9.3" >30</text>
<text x="691.50" y="345.40" text-anchor="start" font-size="9.3" >40</text>
<text x="691.50" y="322.60" text-anchor="start" font-size="9.3" >50</text>
<text x="691.50" y="299.80" text-anchor="start" font-size="9.3" >60</text>
<text x="691.50" y="277.00" text-anchor="start" font-size="9.3" >70</text>
<text x="691.50" y="254.20" text-anchor="start" font-size="9.3" >80</text>
<text x="691.50" y="231.40" text-anchor="start" font-size="9.3" >90</text>
<text x="691.50" y="208.60" text-anchor="start" font-size="9.3" >100</text>
<text x="36.65" y="446.00" text-anchor="middle" font-size="9.3" >0</text>
<text x="75.49" y="446.00" text-anchor="middle" font-size="9.3" >2</text>
<text x="114.33" y="446.00" text-anchor="middle" font-size="9.3" >4</text>
<text x="153.17" y="446.00" text-anchor="middle" font-size="9.3" >6</text>
<text x="192.01" y="446.00" text-anchor="middle" font-size="9.3" >8</text>
<text x="230.85" y="446.00" text-anchor="middle" font-size="9.3" >10</text>
<text x="269.69" y="446.00" text-anchor="middle" font-size="9.3" >12</text>
<text x="308.53" y="446.00" text-anchor="middle" font-size="9.3" >14</text>
<text x="347.37" y="446.00" text-anchor="middle" font-size="9.3" >16</text>
<text x="386.21" y="446.00" text-anchor="middle" font-size="9.3" >18</text>
<text x="425.05" y="446.00" text-anchor="middle" font-size="9.3" >20</text>
<text x="463.89" y="446.00" text-anchor="middle" font-size="9.3" >22</text>
<text x="502.73" y="446.00" text-anchor="middle" font-size="9.3" >24</text>
<text x="541.57" y="446.00" text-anchor="middle" font-size="9.3" >26</text>
<text x="580.41" y="446.00" text-anchor="middle" font-size="9.3" >28</text>
<text x="619.25" y="446.00" text-anchor="middle" font-size="9.3" >30</text>
<text x="662.85" y="446.00" text-anchor="middle" font-size="9.3" >Q [m³/h]</text>
<text x="11.65" y="458.50" text-anchor="middle" font-size="9.3" >P1</text>
<text x="12.95" y="469.80" text-anchor="middle" font-size="9.3" >[W]</text>
<text x="30.10" y="647.80" text-anchor="end" font-size="9.3" >0</text>
<text x="30.10" y="628.85" text-anchor="end" font-size="9.3" >50</text>
<text x="30.10" y="609.90" text-anchor="end" font-size="9.3" >100</text>
<text x="30.10" y="590.95" text-anchor="end" font-size="9.3" >150</text>
<text x="30.10" y="572.00" text-anchor="end" font-size="9.3" >200</text>
<text x="30.10" y="553.05" text-anchor="end" font-size="9.3" >250</text>
<text x="30.10" y="534.10" text-anchor="end" font-size="9.3" >300</text>
<text x="30.10" y="515.15" text-anchor="end" font-size="9.3" >350</text>
<text x="30.10" y="496.20" text-anchor="end" font-size="9.3" >400</text>
<text x="458.30" y="95.30" text-anchor="start" font-size="9.3" >Q = 12.6 m³/h</text>
<text x="458.30" y="107.40" text-anchor="start" font-size="9.3" >H = 7.8 m</text>
<text x="458.30" y="119.50" text-anchor="start" font-size="9.3" >n = 83 % / 3391 rpm</text>
<text x="458.30" y="131.60" text-anchor="start" font-size="9.3" >Fördermedium = Wasser</text>
<text x="458.30" y="143.70" text-anchor="start" font-size="9.3" >Medientemperatur während des Betriebes = 60 °C</text>
<text x="458.30" y="155.80" text-anchor="start" font-size="9.3" >Dichte = 983.2 kg/m³</text>
<text x="468.50" y="428.50" text-anchor="start" font-size="9.3" >Eta Pumpe+Motor+Frequenzumrichter = 63.6 %</text>
<text x="680.30" y="639.00" text-anchor="end" font-size="9.3" >P1 (Motor + Frequenzumrichter) = 413.9 W</text>
<text x="70.30" y="233.40" text-anchor="start" font-size="9.3" >83 %</text>
</g>
<rect x="549.4" y="68.5" width="134.6" height="14.8" fill="#ffffff" stroke="#555555" stroke-width="1.2"/>
<text x="552.8" y="78.9" font-family="Liberation Sans, sans-serif" font-size="9.3" letter-spacing="0.30" fill="#2e2e2e" stroke="#2e2e2e" stroke-width="0.2">MAGNA3 40-120 F, Modell D</text>
</svg></body></html>
